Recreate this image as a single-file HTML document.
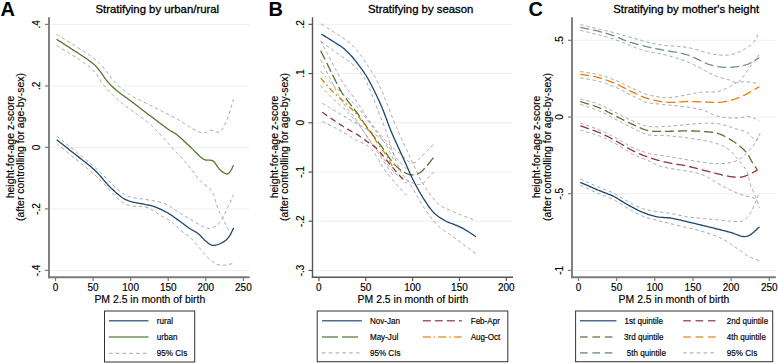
<!DOCTYPE html>
<html><head><meta charset="utf-8"><style>
html,body{margin:0;padding:0;background:#fff;}
svg{display:block;}
text{font-family:"Liberation Sans",sans-serif;}
</style></head><body>
<svg width="778" height="363" viewBox="0 0 778 363">
<rect width="778" height="363" fill="#fff"/>
<text x="0.5" y="16" font-size="20" text-anchor="start" font-weight="bold" fill="#000" stroke="#000" stroke-width="0">A</text>
<text x="157.3" y="12.8" font-size="11.35" text-anchor="middle" font-weight="normal" fill="#000" stroke="#000" stroke-width="0.3">Stratifying by urban/rural</text>
<line x1="50" y1="24.4" x2="249.6" y2="24.4" stroke="#ebf0f0" stroke-width="1"/>
<line x1="50" y1="85.9" x2="249.6" y2="85.9" stroke="#ebf0f0" stroke-width="1"/>
<line x1="50" y1="147.4" x2="249.6" y2="147.4" stroke="#ebf0f0" stroke-width="1"/>
<line x1="50" y1="208.9" x2="249.6" y2="208.9" stroke="#ebf0f0" stroke-width="1"/>
<line x1="50" y1="270.4" x2="249.6" y2="270.4" stroke="#ebf0f0" stroke-width="1"/>
<line x1="49" y1="17.2" x2="49" y2="278.15" stroke="#7a7a7a" stroke-width="1.9"/>
<line x1="48.05" y1="277.2" x2="249.6" y2="277.2" stroke="#7a7a7a" stroke-width="1.9"/>
<line x1="45" y1="24.4" x2="49" y2="24.4" stroke="#7a7a7a" stroke-width="1.2"/>
<text x="40.3" y="24.4" font-size="10" text-anchor="middle" font-weight="normal" fill="#000" stroke="#000" stroke-width="0.16" transform="rotate(-90 40.3 24.4)">.4</text>
<line x1="45" y1="85.9" x2="49" y2="85.9" stroke="#7a7a7a" stroke-width="1.2"/>
<text x="40.3" y="85.9" font-size="10" text-anchor="middle" font-weight="normal" fill="#000" stroke="#000" stroke-width="0.16" transform="rotate(-90 40.3 85.9)">.2</text>
<line x1="45" y1="147.4" x2="49" y2="147.4" stroke="#7a7a7a" stroke-width="1.2"/>
<text x="40.3" y="147.4" font-size="10" text-anchor="middle" font-weight="normal" fill="#000" stroke="#000" stroke-width="0.16" transform="rotate(-90 40.3 147.4)">0</text>
<line x1="45" y1="208.9" x2="49" y2="208.9" stroke="#7a7a7a" stroke-width="1.2"/>
<text x="40.3" y="208.9" font-size="10" text-anchor="middle" font-weight="normal" fill="#000" stroke="#000" stroke-width="0.16" transform="rotate(-90 40.3 208.9)">-.2</text>
<line x1="45" y1="270.4" x2="49" y2="270.4" stroke="#7a7a7a" stroke-width="1.2"/>
<text x="40.3" y="270.4" font-size="10" text-anchor="middle" font-weight="normal" fill="#000" stroke="#000" stroke-width="0.16" transform="rotate(-90 40.3 270.4)">-.4</text>
<line x1="55.5" y1="277.2" x2="55.5" y2="281.0" stroke="#7a7a7a" stroke-width="1.2"/>
<text x="55.5" y="291.2" font-size="10" text-anchor="middle" font-weight="normal" fill="#000" stroke="#000" stroke-width="0.16">0</text>
<line x1="93.08000000000001" y1="277.2" x2="93.08000000000001" y2="281.0" stroke="#7a7a7a" stroke-width="1.2"/>
<text x="93.08000000000001" y="291.2" font-size="10" text-anchor="middle" font-weight="normal" fill="#000" stroke="#000" stroke-width="0.16">50</text>
<line x1="130.66000000000003" y1="277.2" x2="130.66000000000003" y2="281.0" stroke="#7a7a7a" stroke-width="1.2"/>
<text x="130.66000000000003" y="291.2" font-size="10" text-anchor="middle" font-weight="normal" fill="#000" stroke="#000" stroke-width="0.16">100</text>
<line x1="168.24" y1="277.2" x2="168.24" y2="281.0" stroke="#7a7a7a" stroke-width="1.2"/>
<text x="168.24" y="291.2" font-size="10" text-anchor="middle" font-weight="normal" fill="#000" stroke="#000" stroke-width="0.16">150</text>
<line x1="205.82000000000002" y1="277.2" x2="205.82000000000002" y2="281.0" stroke="#7a7a7a" stroke-width="1.2"/>
<text x="205.82000000000002" y="291.2" font-size="10" text-anchor="middle" font-weight="normal" fill="#000" stroke="#000" stroke-width="0.16">200</text>
<line x1="243.4" y1="277.2" x2="243.4" y2="281.0" stroke="#7a7a7a" stroke-width="1.2"/>
<text x="243.4" y="291.2" font-size="10" text-anchor="middle" font-weight="normal" fill="#000" stroke="#000" stroke-width="0.16">250</text>
<text x="149.8" y="302.8" font-size="10.45" text-anchor="middle" font-weight="normal" fill="#000" stroke="#000" stroke-width="0.16">PM 2.5 in month of birth</text>
<text x="14" y="147" font-size="10.5" text-anchor="middle" font-weight="normal" fill="#000" stroke="#000" stroke-width="0.16" transform="rotate(-90 14 147)">height-for-age z-score</text>
<text x="24.3" y="147" font-size="10.45" text-anchor="middle" font-weight="normal" fill="#000" stroke="#000" stroke-width="0.16" transform="rotate(-90 24.3 147)">(after controlling for age-by-sex)</text>
<path d="M56.60,34.30 L57.65,34.97 L58.72,35.65 L59.80,36.34 L60.90,37.04 L62.02,37.74 L63.14,38.44 L64.28,39.16 L65.42,39.87 L66.57,40.59 L67.73,41.31 L68.88,42.03 L70.04,42.75 L71.20,43.47 L72.35,44.19 L73.50,44.90 L74.64,45.62 L75.77,46.33 L76.89,47.03 L78.00,47.73 L79.10,48.42 L80.18,49.11 L81.24,49.79 L82.28,50.46 L83.30,51.12 L84.30,51.77 L85.27,52.40 L86.21,53.03 L87.13,53.64 L88.01,54.24 L88.86,54.83 L89.68,55.39 L90.46,55.95 L91.20,56.48 L91.90,57.00 L93.17,57.95 L94.28,58.81 L95.28,59.59 L96.19,60.34 L97.06,61.08 L97.91,61.85 L98.78,62.67 L99.69,63.58 L100.70,64.60 L101.40,65.34 L102.10,66.13 L102.82,66.98 L103.56,67.87 L104.30,68.80 L105.05,69.76 L105.81,70.75 L106.58,71.75 L107.35,72.78 L108.13,73.81 L108.91,74.85 L109.70,75.89 L110.49,76.91 L111.28,77.93 L112.07,78.92 L112.86,79.89 L113.65,80.83 L114.44,81.73 L115.22,82.59 L116.00,83.40 L116.93,84.33 L117.85,85.22 L118.77,86.09 L119.68,86.93 L120.59,87.74 L121.51,88.54 L122.43,89.31 L123.36,90.07 L124.30,90.81 L125.25,91.54 L126.23,92.26 L127.23,92.98 L128.25,93.69 L129.30,94.40 L130.26,95.03 L131.24,95.64 L132.23,96.22 L133.24,96.80 L134.25,97.36 L135.28,97.91 L136.33,98.45 L137.39,98.99 L138.46,99.53 L139.54,100.06 L140.64,100.60 L141.75,101.14 L142.87,101.69 L144.01,102.24 L145.16,102.81 L146.32,103.40 L147.50,104.00 L148.49,104.51 L149.51,105.03 L150.53,105.55 L151.58,106.08 L152.63,106.61 L153.71,107.15 L154.79,107.69 L155.88,108.24 L156.98,108.79 L158.09,109.34 L159.21,109.90 L160.34,110.46 L161.47,111.02 L162.60,111.58 L163.74,112.15 L164.87,112.72 L166.01,113.29 L167.15,113.87 L168.29,114.44 L169.42,115.02 L170.55,115.59 L171.67,116.17 L172.79,116.75 L173.90,117.32 L175.00,117.90 L176.07,118.48 L177.17,119.10 L178.27,119.75 L179.39,120.42 L180.52,121.12 L181.66,121.84 L182.80,122.57 L183.94,123.31 L185.09,124.05 L186.24,124.80 L187.38,125.54 L188.52,126.27 L189.65,126.98 L190.77,127.68 L191.87,128.36 L192.97,129.01 L194.04,129.62 L195.10,130.21 L196.14,130.75 L197.15,131.24 L198.13,131.69 L199.09,132.08 L200.02,132.41 L200.92,132.67 L201.78,132.87 L202.60,133.00 L204.03,133.00 L205.37,132.75 L206.62,132.30 L207.82,131.76 L208.97,131.20 L210.09,130.70 L211.20,130.34 L212.30,130.20 L213.78,130.48 L215.22,131.12 L216.60,131.82 L217.93,132.28 L219.20,132.20 L219.99,131.79 L220.74,131.17 L221.46,130.37 L222.16,129.41 L222.83,128.32 L223.49,127.14 L224.13,125.89 L224.76,124.59 L225.38,123.29 L226.00,122.00 L226.45,121.04 L226.89,120.03 L227.31,118.98 L227.73,117.88 L228.14,116.75 L228.54,115.58 L228.93,114.39 L229.32,113.17 L229.70,111.94 L230.08,110.68 L230.46,109.42 L230.84,108.14 L231.21,106.87 L231.59,105.60 L231.96,104.33 L232.34,103.07 L232.72,101.83 L233.11,100.60 L233.50,99.40" fill="none" stroke="#9a9a9a" stroke-width="0.9" stroke-dasharray="3.4 2.8" stroke-linecap="butt" stroke-linejoin="round"/>
<path d="M56.60,45.30 L57.62,45.98 L58.65,46.65 L59.69,47.33 L60.75,48.00 L61.82,48.68 L62.89,49.35 L63.98,50.02 L65.07,50.70 L66.17,51.37 L67.27,52.04 L68.37,52.71 L69.47,53.39 L70.57,54.06 L71.67,54.73 L72.77,55.40 L73.87,56.08 L74.95,56.75 L76.03,57.42 L77.10,58.10 L78.16,58.77 L79.21,59.45 L80.25,60.12 L81.27,60.80 L82.27,61.47 L83.26,62.15 L84.23,62.83 L85.18,63.51 L86.11,64.19 L87.02,64.88 L87.90,65.56 L88.76,66.24 L89.59,66.93 L90.39,67.62 L91.16,68.31 L91.90,69.00 L92.88,69.97 L93.79,70.96 L94.65,71.95 L95.46,72.94 L96.22,73.94 L96.94,74.95 L97.63,75.95 L98.29,76.96 L98.94,77.96 L99.57,78.96 L100.20,79.96 L100.83,80.95 L101.47,81.94 L102.12,82.91 L102.79,83.88 L103.49,84.83 L104.23,85.77 L105.00,86.70 L105.79,87.61 L106.58,88.50 L107.38,89.37 L108.17,90.24 L108.97,91.10 L109.78,91.94 L110.59,92.78 L111.41,93.62 L112.25,94.45 L113.09,95.28 L113.95,96.10 L114.83,96.93 L115.72,97.76 L116.63,98.60 L117.57,99.44 L118.52,100.28 L119.50,101.14 L120.50,102.00 L121.33,102.70 L122.20,103.41 L123.10,104.13 L124.03,104.85 L124.98,105.59 L125.97,106.33 L126.97,107.07 L127.99,107.82 L129.02,108.57 L130.07,109.32 L131.13,110.07 L132.19,110.83 L133.26,111.58 L134.32,112.33 L135.38,113.07 L136.44,113.81 L137.49,114.55 L138.52,115.28 L139.54,116.00 L140.54,116.72 L141.51,117.42 L142.47,118.11 L143.39,118.80 L144.29,119.47 L145.15,120.12 L145.97,120.76 L146.76,121.39 L147.50,122.00 L148.62,122.95 L149.65,123.83 L150.61,124.67 L151.50,125.48 L152.35,126.28 L153.18,127.07 L154.01,127.87 L154.85,128.70 L155.71,129.57 L156.62,130.50 L157.60,131.50 L158.34,132.26 L159.10,133.06 L159.88,133.90 L160.68,134.77 L161.49,135.66 L162.32,136.58 L163.16,137.52 L164.01,138.47 L164.87,139.44 L165.73,140.42 L166.59,141.40 L167.45,142.38 L168.31,143.36 L169.16,144.34 L170.01,145.30 L170.85,146.26 L171.67,147.19 L172.48,148.11 L173.27,149.00 L174.05,149.87 L174.80,150.70 L175.69,151.68 L176.56,152.62 L177.41,153.53 L178.25,154.42 L179.07,155.29 L179.88,156.15 L180.68,157.00 L181.49,157.86 L182.29,158.71 L183.09,159.58 L183.90,160.47 L184.72,161.38 L185.55,162.32 L186.40,163.30 L187.14,164.17 L187.89,165.08 L188.64,166.01 L189.40,166.97 L190.17,167.96 L190.94,168.95 L191.71,169.96 L192.48,170.98 L193.26,172.00 L194.04,173.02 L194.82,174.02 L195.59,175.02 L196.37,176.01 L197.14,176.97 L197.90,177.90 L198.66,178.81 L199.42,179.68 L200.16,180.51 L200.90,181.30 L201.90,182.27 L202.91,183.15 L203.93,183.95 L204.96,184.71 L205.97,185.44 L206.97,186.16 L207.94,186.91 L208.88,187.69 L209.77,188.53 L210.62,189.46 L211.40,190.50 L211.98,191.43 L212.52,192.43 L213.01,193.48 L213.47,194.59 L213.89,195.74 L214.29,196.92 L214.67,198.13 L215.03,199.36 L215.38,200.60 L215.73,201.83 L216.08,203.06 L216.43,204.28 L216.79,205.47 L217.17,206.62 L217.57,207.74 L218.00,208.80 L218.52,209.98 L219.04,211.13 L219.57,212.26 L220.11,213.36 L220.66,214.44 L221.20,215.51 L221.76,216.57 L222.31,217.63 L222.86,218.69 L223.41,219.75 L223.96,220.82 L224.50,221.90 L225.04,222.99 L225.58,224.08 L226.12,225.18 L226.67,226.27 L227.21,227.36 L227.75,228.45 L228.29,229.54 L228.83,230.63 L229.38,231.72 L229.92,232.82 L230.46,233.91 L231.00,235.00" fill="none" stroke="#9a9a9a" stroke-width="0.9" stroke-dasharray="3.4 2.8" stroke-linecap="butt" stroke-linejoin="round"/>
<path d="M56.60,39.30 L57.63,39.96 L58.65,40.61 L59.67,41.27 L60.69,41.92 L61.71,42.57 L62.73,43.22 L63.75,43.87 L64.77,44.53 L65.79,45.18 L66.82,45.84 L67.84,46.50 L68.88,47.17 L69.91,47.84 L70.95,48.52 L72.00,49.20 L72.99,49.85 L74.02,50.51 L75.06,51.19 L76.12,51.88 L77.20,52.57 L78.28,53.27 L79.36,53.98 L80.44,54.68 L81.51,55.38 L82.56,56.07 L83.59,56.75 L84.59,57.42 L85.56,58.08 L86.49,58.72 L87.38,59.33 L88.22,59.93 L89.00,60.50 L90.29,61.46 L91.46,62.33 L92.53,63.16 L93.54,63.99 L94.52,64.86 L95.50,65.80 L96.34,66.68 L97.15,67.59 L97.94,68.53 L98.70,69.49 L99.46,70.47 L100.23,71.48 L101.00,72.50 L101.74,73.51 L102.45,74.55 L103.16,75.61 L103.87,76.70 L104.60,77.78 L105.36,78.87 L106.15,79.95 L107.00,81.00 L107.79,81.92 L108.60,82.83 L109.44,83.74 L110.30,84.64 L111.19,85.55 L112.10,86.44 L113.04,87.34 L114.00,88.23 L114.99,89.11 L116.00,90.00 L116.91,90.77 L117.85,91.53 L118.81,92.28 L119.79,93.02 L120.79,93.76 L121.81,94.50 L122.84,95.24 L123.89,95.99 L124.95,96.74 L126.03,97.51 L127.11,98.29 L128.20,99.08 L129.30,99.90 L130.19,100.57 L131.09,101.25 L132.00,101.94 L132.92,102.63 L133.85,103.34 L134.78,104.05 L135.73,104.76 L136.68,105.49 L137.64,106.22 L138.60,106.95 L139.57,107.69 L140.55,108.44 L141.53,109.18 L142.52,109.93 L143.51,110.68 L144.50,111.44 L145.50,112.19 L146.50,112.95 L147.50,113.70 L148.46,114.42 L149.45,115.17 L150.46,115.94 L151.50,116.73 L152.55,117.53 L153.61,118.34 L154.68,119.16 L155.76,119.99 L156.84,120.81 L157.91,121.63 L158.99,122.44 L160.05,123.25 L161.10,124.04 L162.13,124.81 L163.14,125.57 L164.12,126.30 L165.08,127.00 L166.00,127.68 L166.89,128.32 L167.74,128.92 L168.54,129.48 L169.30,130.00 L170.50,130.77 L171.56,131.40 L172.53,131.94 L173.47,132.45 L174.41,132.99 L175.40,133.62 L176.50,134.40 L177.31,135.02 L178.15,135.71 L179.03,136.45 L179.93,137.24 L180.86,138.07 L181.81,138.93 L182.78,139.82 L183.75,140.73 L184.73,141.66 L185.71,142.59 L186.68,143.51 L187.64,144.44 L188.59,145.34 L189.52,146.23 L190.42,147.08 L191.30,147.90 L192.32,148.86 L193.34,149.87 L194.38,150.90 L195.40,151.94 L196.42,152.97 L197.41,153.98 L198.39,154.94 L199.32,155.85 L200.22,156.69 L201.07,157.44 L201.87,158.08 L202.60,158.60 L203.79,159.27 L204.82,159.67 L206.00,160.00 L207.22,160.17 L208.59,160.19 L210.03,160.22 L211.46,160.40 L212.80,160.90 L213.69,161.54 L214.54,162.41 L215.35,163.44 L216.15,164.58 L216.93,165.78 L217.72,166.98 L218.52,168.12 L219.34,169.14 L220.20,170.00 L221.35,170.95 L222.57,171.89 L223.81,172.74 L225.01,173.42 L226.13,173.87 L227.10,174.00 L228.15,173.65 L229.04,172.88 L229.90,171.90 L230.53,171.04 L231.14,170.01 L231.74,168.86 L232.32,167.66 L232.91,166.45 L233.50,165.30" fill="none" stroke="#55752f" stroke-width="1.3" stroke-linecap="butt" stroke-linejoin="round"/>
<path d="M56.70,136.00 L57.65,136.78 L58.60,137.56 L59.55,138.34 L60.51,139.12 L61.47,139.90 L62.43,140.68 L63.39,141.47 L64.35,142.25 L65.32,143.03 L66.29,143.82 L67.25,144.60 L68.22,145.39 L69.19,146.17 L70.16,146.96 L71.13,147.74 L72.09,148.53 L73.06,149.31 L74.03,150.10 L74.99,150.88 L75.96,151.66 L76.92,152.45 L77.88,153.23 L78.84,154.01 L79.80,154.79 L80.75,155.57 L81.71,156.35 L82.65,157.13 L83.60,157.91 L84.54,158.69 L85.48,159.46 L86.42,160.24 L87.35,161.01 L88.27,161.78 L89.20,162.55 L90.11,163.32 L91.02,164.09 L91.93,164.85 L92.83,165.62 L93.73,166.38 L94.62,167.14 L95.50,167.90 L96.48,168.76 L97.46,169.63 L98.43,170.53 L99.39,171.43 L100.35,172.35 L101.30,173.28 L102.24,174.21 L103.18,175.16 L104.12,176.11 L105.05,177.06 L105.98,178.01 L106.90,178.96 L107.82,179.90 L108.74,180.84 L109.65,181.78 L110.56,182.70 L111.47,183.62 L112.37,184.52 L113.27,185.41 L114.17,186.28 L115.07,187.13 L115.97,187.96 L116.86,188.77 L117.76,189.55 L118.65,190.31 L119.54,191.04 L120.44,191.74 L121.33,192.41 L122.22,193.04 L123.11,193.64 L124.01,194.20 L124.90,194.72 L125.80,195.20 L127.00,195.77 L128.20,196.27 L129.41,196.71 L130.61,197.08 L131.81,197.40 L133.01,197.68 L134.21,197.92 L135.41,198.12 L136.60,198.29 L137.79,198.45 L138.97,198.59 L140.14,198.72 L141.31,198.85 L142.47,198.98 L143.62,199.13 L144.76,199.29 L145.88,199.48 L147.00,199.70 L148.27,199.96 L149.53,200.19 L150.78,200.41 L152.02,200.61 L153.25,200.81 L154.48,201.01 L155.69,201.21 L156.89,201.43 L158.07,201.66 L159.25,201.92 L160.41,202.21 L161.56,202.53 L162.69,202.89 L163.80,203.30 L164.93,203.78 L166.04,204.31 L167.13,204.87 L168.19,205.48 L169.25,206.11 L170.28,206.77 L171.31,207.44 L172.34,208.13 L173.36,208.82 L174.39,209.51 L175.41,210.19 L176.45,210.85 L177.50,211.50 L178.55,212.14 L179.60,212.78 L180.64,213.42 L181.68,214.06 L182.71,214.71 L183.75,215.35 L184.79,216.00 L185.84,216.64 L186.90,217.28 L187.98,217.91 L189.07,218.55 L190.17,219.18 L191.30,219.80 L192.34,220.38 L193.40,221.02 L194.49,221.69 L195.61,222.39 L196.74,223.11 L197.88,223.82 L199.03,224.53 L200.18,225.21 L201.32,225.86 L202.46,226.46 L203.58,227.00 L204.68,227.48 L205.76,227.86 L206.81,228.15 L207.82,228.34 L208.80,228.40 L210.10,228.31 L211.38,228.06 L212.63,227.67 L213.85,227.15 L215.03,226.52 L216.16,225.79 L217.26,224.98 L218.31,224.12 L219.30,223.20 L220.07,222.39 L220.79,221.48 L221.46,220.49 L222.10,219.44 L222.71,218.32 L223.30,217.17 L223.86,215.98 L224.41,214.76 L224.94,213.54 L225.48,212.32 L226.01,211.12 L226.55,209.94 L227.10,208.80 L227.64,207.70 L228.17,206.60 L228.70,205.49 L229.21,204.39 L229.72,203.28 L230.22,202.17 L230.71,201.06 L231.21,199.95 L231.70,198.84 L232.20,197.73 L232.70,196.62 L233.20,195.51 L233.70,194.40" fill="none" stroke="#9a9a9a" stroke-width="0.9" stroke-dasharray="3.4 2.8" stroke-linecap="butt" stroke-linejoin="round"/>
<path d="M56.70,143.60 L57.65,144.38 L58.60,145.16 L59.55,145.94 L60.51,146.71 L61.47,147.49 L62.43,148.27 L63.39,149.05 L64.36,149.83 L65.33,150.61 L66.29,151.39 L67.26,152.17 L68.23,152.95 L69.20,153.73 L70.17,154.51 L71.14,155.29 L72.11,156.07 L73.08,156.85 L74.05,157.63 L75.02,158.41 L75.98,159.19 L76.95,159.97 L77.91,160.75 L78.87,161.53 L79.83,162.30 L80.78,163.08 L81.73,163.86 L82.68,164.64 L83.63,165.42 L84.57,166.20 L85.51,166.97 L86.44,167.75 L87.37,168.53 L88.30,169.30 L89.22,170.08 L90.13,170.85 L91.04,171.63 L91.95,172.41 L92.84,173.18 L93.74,173.95 L94.62,174.73 L95.50,175.50 L96.46,176.36 L97.41,177.24 L98.35,178.15 L99.29,179.06 L100.22,180.00 L101.15,180.95 L102.07,181.90 L102.98,182.87 L103.89,183.85 L104.79,184.82 L105.69,185.81 L106.59,186.79 L107.48,187.77 L108.36,188.74 L109.25,189.71 L110.13,190.68 L111.01,191.63 L111.88,192.57 L112.75,193.49 L113.63,194.40 L114.50,195.29 L115.36,196.16 L116.23,197.01 L117.10,197.83 L117.96,198.62 L118.83,199.39 L119.70,200.12 L120.57,200.82 L121.43,201.48 L122.30,202.11 L123.17,202.70 L124.05,203.24 L124.92,203.74 L125.80,204.20 L127.07,204.76 L128.35,205.21 L129.64,205.56 L130.93,205.83 L132.23,206.03 L133.53,206.17 L134.83,206.26 L136.13,206.32 L137.41,206.36 L138.68,206.39 L139.94,206.43 L141.18,206.49 L142.40,206.58 L143.59,206.71 L144.76,206.90 L145.90,207.16 L147.00,207.50 L148.22,207.97 L149.41,208.51 L150.56,209.09 L151.69,209.71 L152.80,210.37 L153.88,211.05 L154.94,211.75 L155.99,212.45 L157.01,213.14 L158.03,213.82 L159.03,214.48 L160.02,215.11 L161.00,215.70 L162.16,216.35 L163.29,216.95 L164.39,217.52 L165.47,218.08 L166.54,218.64 L167.59,219.22 L168.63,219.83 L169.67,220.48 L170.70,221.20 L171.69,221.97 L172.66,222.80 L173.61,223.67 L174.56,224.58 L175.49,225.51 L176.43,226.45 L177.37,227.39 L178.32,228.32 L179.30,229.23 L180.30,230.10 L181.25,230.87 L182.22,231.60 L183.20,232.30 L184.19,232.99 L185.19,233.67 L186.20,234.36 L187.22,235.08 L188.23,235.83 L189.26,236.62 L190.28,237.48 L191.30,238.40 L192.07,239.15 L192.84,239.96 L193.62,240.81 L194.41,241.71 L195.20,242.65 L196.00,243.61 L196.79,244.60 L197.59,245.61 L198.39,246.62 L199.19,247.64 L199.99,248.66 L200.78,249.67 L201.57,250.66 L202.36,251.63 L203.14,252.56 L203.92,253.47 L204.69,254.33 L205.45,255.14 L206.20,255.90 L207.17,256.86 L208.13,257.80 L209.08,258.72 L210.01,259.62 L210.94,260.47 L211.87,261.28 L212.80,262.03 L213.73,262.72 L214.68,263.33 L215.63,263.86 L216.60,264.30 L217.89,264.72 L219.21,264.99 L220.55,265.14 L221.89,265.19 L223.21,265.16 L224.52,265.09 L225.80,265.00 L227.16,264.84 L228.49,264.58 L229.79,264.25 L231.09,263.89 L232.39,263.53 L233.70,263.20" fill="none" stroke="#9a9a9a" stroke-width="0.9" stroke-dasharray="3.4 2.8" stroke-linecap="butt" stroke-linejoin="round"/>
<path d="M56.70,139.70 L57.67,140.47 L58.64,141.24 L59.60,142.00 L60.56,142.76 L61.52,143.52 L62.47,144.27 L63.43,145.03 L64.39,145.79 L65.35,146.55 L66.31,147.31 L67.28,148.08 L68.25,148.85 L69.22,149.62 L70.20,150.40 L71.19,151.19 L72.18,151.98 L73.19,152.79 L74.20,153.60 L75.13,154.34 L76.08,155.09 L77.04,155.85 L78.02,156.61 L79.00,157.37 L80.00,158.14 L81.00,158.92 L82.00,159.69 L83.01,160.48 L84.02,161.26 L85.03,162.05 L86.03,162.84 L87.03,163.64 L88.03,164.44 L89.01,165.24 L89.99,166.04 L90.95,166.85 L91.90,167.65 L92.83,168.46 L93.74,169.27 L94.63,170.09 L95.50,170.90 L96.44,171.81 L97.35,172.73 L98.23,173.67 L99.10,174.62 L99.95,175.57 L100.78,176.54 L101.60,177.50 L102.41,178.46 L103.22,179.43 L104.02,180.39 L104.82,181.34 L105.62,182.28 L106.42,183.21 L107.23,184.13 L108.05,185.03 L108.89,185.91 L109.73,186.77 L110.60,187.60 L111.51,188.46 L112.42,189.32 L113.33,190.18 L114.24,191.03 L115.16,191.88 L116.07,192.71 L116.99,193.53 L117.92,194.33 L118.86,195.11 L119.81,195.86 L120.77,196.59 L121.74,197.29 L122.73,197.95 L123.73,198.57 L124.76,199.16 L125.80,199.70 L126.93,200.22 L128.10,200.68 L129.31,201.10 L130.56,201.47 L131.82,201.81 L133.11,202.12 L134.39,202.40 L135.68,202.65 L136.95,202.89 L138.20,203.11 L139.43,203.33 L140.62,203.54 L141.77,203.75 L142.86,203.97 L143.90,204.20 L145.35,204.52 L146.68,204.77 L147.94,205.00 L149.16,205.22 L150.38,205.48 L151.65,205.79 L153.00,206.20 L154.05,206.56 L155.14,206.95 L156.26,207.38 L157.40,207.84 L158.56,208.33 L159.73,208.84 L160.90,209.37 L162.06,209.92 L163.21,210.48 L164.34,211.05 L165.44,211.62 L166.50,212.20 L167.56,212.81 L168.60,213.43 L169.62,214.08 L170.62,214.73 L171.60,215.40 L172.58,216.09 L173.55,216.78 L174.53,217.48 L175.51,218.18 L176.50,218.89 L177.50,219.60 L178.49,220.30 L179.48,221.03 L180.49,221.77 L181.50,222.52 L182.51,223.28 L183.52,224.05 L184.53,224.80 L185.53,225.55 L186.52,226.28 L187.50,226.98 L188.46,227.66 L189.40,228.30 L190.57,229.04 L191.72,229.72 L192.87,230.36 L193.99,230.98 L195.10,231.60 L196.19,232.24 L197.25,232.94 L198.30,233.70 L199.24,234.49 L200.14,235.35 L201.03,236.26 L201.90,237.20 L202.76,238.14 L203.62,239.07 L204.47,239.95 L205.33,240.77 L206.20,241.50 L207.27,242.35 L208.31,243.19 L209.35,243.96 L210.42,244.62 L211.52,245.12 L212.70,245.40 L213.93,245.44 L215.25,245.29 L216.62,244.96 L218.01,244.52 L219.38,243.98 L220.69,243.40 L221.90,242.80 L223.12,242.12 L224.28,241.38 L225.39,240.55 L226.44,239.65 L227.44,238.67 L228.40,237.60 L229.09,236.70 L229.74,235.71 L230.34,234.66 L230.92,233.56 L231.47,232.43 L232.02,231.28 L232.57,230.13 L233.12,229.00 L233.70,227.90" fill="none" stroke="#1a476f" stroke-width="1.3" stroke-linecap="butt" stroke-linejoin="round"/>
<rect x="104.5" y="311" width="90.2" height="51" fill="none" stroke="#333" stroke-width="1"/>
<line x1="108.9" y1="320.8" x2="148.5" y2="320.8" stroke="#4a6d90" stroke-width="1.6"/>
<line x1="108.9" y1="337" x2="148.5" y2="337" stroke="#73905a" stroke-width="1.6"/>
<path d="M108.90,353.30 L148.50,353.30" fill="none" stroke="#9a9a9a" stroke-width="0.9" stroke-dasharray="3.6 3.2" stroke-linecap="butt" stroke-linejoin="round"/>
<text x="156.8" y="323.9" font-size="8.1" text-anchor="start" font-weight="normal" fill="#000" stroke="#000" stroke-width="0.16" transform="translate(156.8 323.9) scale(1 1.12) translate(-156.8 -323.9)">rural</text>
<text x="156.8" y="339.9" font-size="8.1" text-anchor="start" font-weight="normal" fill="#000" stroke="#000" stroke-width="0.16" transform="translate(156.8 339.9) scale(1 1.12) translate(-156.8 -339.9)">urban</text>
<text x="156.8" y="356.4" font-size="8.1" text-anchor="start" font-weight="normal" fill="#000" stroke="#000" stroke-width="0.16" transform="translate(156.8 356.4) scale(1 1.12) translate(-156.8 -356.4)">95% CIs</text>
<text x="268.5" y="16" font-size="20" text-anchor="start" font-weight="bold" fill="#000" stroke="#000" stroke-width="0">B</text>
<text x="420.7" y="12.8" font-size="11.35" text-anchor="middle" font-weight="normal" fill="#000" stroke="#000" stroke-width="0.3">Stratifying by season</text>
<line x1="313.5" y1="24.36" x2="513" y2="24.36" stroke="#ebf0f0" stroke-width="1"/>
<line x1="313.5" y1="73.58" x2="513" y2="73.58" stroke="#ebf0f0" stroke-width="1"/>
<line x1="313.5" y1="122.8" x2="513" y2="122.8" stroke="#ebf0f0" stroke-width="1"/>
<line x1="313.5" y1="172.01999999999998" x2="513" y2="172.01999999999998" stroke="#ebf0f0" stroke-width="1"/>
<line x1="313.5" y1="221.24" x2="513" y2="221.24" stroke="#ebf0f0" stroke-width="1"/>
<line x1="313.5" y1="270.46" x2="513" y2="270.46" stroke="#ebf0f0" stroke-width="1"/>
<line x1="312.5" y1="17.2" x2="312.5" y2="277.9" stroke="#555" stroke-width="1.4"/>
<line x1="311.8" y1="277.2" x2="513" y2="277.2" stroke="#555" stroke-width="1.4"/>
<line x1="308.5" y1="24.36" x2="312.5" y2="24.36" stroke="#555" stroke-width="1.2"/>
<text x="303.6" y="24.36" font-size="10" text-anchor="middle" font-weight="normal" fill="#000" stroke="#000" stroke-width="0.16" transform="rotate(-90 303.6 24.36)">.2</text>
<line x1="308.5" y1="73.58" x2="312.5" y2="73.58" stroke="#555" stroke-width="1.2"/>
<text x="303.6" y="73.58" font-size="10" text-anchor="middle" font-weight="normal" fill="#000" stroke="#000" stroke-width="0.16" transform="rotate(-90 303.6 73.58)">.1</text>
<line x1="308.5" y1="122.8" x2="312.5" y2="122.8" stroke="#555" stroke-width="1.2"/>
<text x="303.6" y="122.8" font-size="10" text-anchor="middle" font-weight="normal" fill="#000" stroke="#000" stroke-width="0.16" transform="rotate(-90 303.6 122.8)">0</text>
<line x1="308.5" y1="172.01999999999998" x2="312.5" y2="172.01999999999998" stroke="#555" stroke-width="1.2"/>
<text x="303.6" y="172.01999999999998" font-size="10" text-anchor="middle" font-weight="normal" fill="#000" stroke="#000" stroke-width="0.16" transform="rotate(-90 303.6 172.01999999999998)">-.1</text>
<line x1="308.5" y1="221.24" x2="312.5" y2="221.24" stroke="#555" stroke-width="1.2"/>
<text x="303.6" y="221.24" font-size="10" text-anchor="middle" font-weight="normal" fill="#000" stroke="#000" stroke-width="0.16" transform="rotate(-90 303.6 221.24)">-.2</text>
<line x1="308.5" y1="270.46" x2="312.5" y2="270.46" stroke="#555" stroke-width="1.2"/>
<text x="303.6" y="270.46" font-size="10" text-anchor="middle" font-weight="normal" fill="#000" stroke="#000" stroke-width="0.16" transform="rotate(-90 303.6 270.46)">-.3</text>
<line x1="318.9" y1="277.2" x2="318.9" y2="281.0" stroke="#555" stroke-width="1.2"/>
<text x="318.9" y="291.2" font-size="10" text-anchor="middle" font-weight="normal" fill="#000" stroke="#000" stroke-width="0.16">0</text>
<line x1="365.75" y1="277.2" x2="365.75" y2="281.0" stroke="#555" stroke-width="1.2"/>
<text x="365.75" y="291.2" font-size="10" text-anchor="middle" font-weight="normal" fill="#000" stroke="#000" stroke-width="0.16">50</text>
<line x1="412.59999999999997" y1="277.2" x2="412.59999999999997" y2="281.0" stroke="#555" stroke-width="1.2"/>
<text x="412.59999999999997" y="291.2" font-size="10" text-anchor="middle" font-weight="normal" fill="#000" stroke="#000" stroke-width="0.16">100</text>
<line x1="459.45" y1="277.2" x2="459.45" y2="281.0" stroke="#555" stroke-width="1.2"/>
<text x="459.45" y="291.2" font-size="10" text-anchor="middle" font-weight="normal" fill="#000" stroke="#000" stroke-width="0.16">150</text>
<line x1="506.29999999999995" y1="277.2" x2="506.29999999999995" y2="281.0" stroke="#555" stroke-width="1.2"/>
<text x="506.29999999999995" y="291.2" font-size="10" text-anchor="middle" font-weight="normal" fill="#000" stroke="#000" stroke-width="0.16">200</text>
<text x="413" y="302.8" font-size="10.45" text-anchor="middle" font-weight="normal" fill="#000" stroke="#000" stroke-width="0.16">PM 2.5 in month of birth</text>
<text x="277.5" y="147" font-size="10.5" text-anchor="middle" font-weight="normal" fill="#000" stroke="#000" stroke-width="0.16" transform="rotate(-90 277.5 147)">height-for-age z-score</text>
<text x="287.8" y="147" font-size="10.45" text-anchor="middle" font-weight="normal" fill="#000" stroke="#000" stroke-width="0.16" transform="rotate(-90 287.8 147)">(after controlling for age-by-sex)</text>
<path d="M321.30,24.10 L322.40,24.79 L323.49,25.46 L324.57,26.13 L325.65,26.80 L326.74,27.47 L327.82,28.14 L328.91,28.82 L330.01,29.50 L331.11,30.20 L332.23,30.91 L333.36,31.65 L334.50,32.40 L335.50,33.06 L336.52,33.73 L337.57,34.41 L338.64,35.10 L339.72,35.80 L340.81,36.50 L341.90,37.22 L342.99,37.95 L344.07,38.68 L345.13,39.42 L346.19,40.17 L347.21,40.92 L348.21,41.68 L349.18,42.45 L350.11,43.22 L351.00,44.00 L351.98,44.91 L352.92,45.83 L353.82,46.76 L354.70,47.69 L355.54,48.64 L356.36,49.60 L357.16,50.56 L357.94,51.53 L358.72,52.51 L359.48,53.50 L360.24,54.50 L361.00,55.50 L361.75,56.51 L362.48,57.53 L363.19,58.57 L363.89,59.62 L364.58,60.68 L365.27,61.74 L365.94,62.80 L366.60,63.86 L367.26,64.91 L367.91,65.96 L368.56,66.99 L369.20,68.00 L369.91,69.09 L370.60,70.16 L371.29,71.21 L371.97,72.25 L372.64,73.28 L373.31,74.32 L373.97,75.38 L374.62,76.45 L375.26,77.56 L375.90,78.70 L376.47,79.77 L377.03,80.83 L377.57,81.89 L378.10,82.97 L378.62,84.05 L379.14,85.16 L379.67,86.31 L380.20,87.48 L380.75,88.70 L381.31,89.98 L381.89,91.31 L382.50,92.70 L382.89,93.59 L383.28,94.52 L383.69,95.49 L384.10,96.49 L384.52,97.51 L384.95,98.57 L385.38,99.65 L385.82,100.75 L386.27,101.88 L386.72,103.02 L387.18,104.18 L387.64,105.36 L388.10,106.54 L388.57,107.74 L389.04,108.94 L389.51,110.15 L389.98,111.36 L390.45,112.57 L390.93,113.78 L391.40,114.98 L391.87,116.18 L392.34,117.37 L392.81,118.55 L393.28,119.71 L393.74,120.86 L394.20,122.00 L394.66,123.11 L395.11,124.20 L395.56,125.26 L396.00,126.30 L396.51,127.49 L397.02,128.67 L397.53,129.84 L398.05,130.99 L398.56,132.14 L399.07,133.28 L399.57,134.40 L400.08,135.52 L400.59,136.63 L401.09,137.74 L401.60,138.83 L402.10,139.92 L402.60,141.00 L403.10,142.07 L403.59,143.14 L404.09,144.20 L404.58,145.26 L405.07,146.32 L405.56,147.37 L406.04,148.42 L406.52,149.46 L407.00,150.50 L407.55,151.71 L408.11,152.92 L408.66,154.13 L409.21,155.33 L409.75,156.53 L410.30,157.73 L410.84,158.91 L411.38,160.09 L411.91,161.26 L412.44,162.41 L412.97,163.55 L413.49,164.67 L414.00,165.78 L414.51,166.87 L415.01,167.93 L415.51,168.98 L416.00,170.00 L416.57,171.21 L417.11,172.36 L417.61,173.47 L418.10,174.54 L418.58,175.59 L419.07,176.64 L419.59,177.69 L420.13,178.76 L420.73,179.86 L421.38,181.00 L422.10,182.20 L422.66,183.10 L423.24,184.04 L423.86,185.03 L424.50,186.05 L425.16,187.10 L425.85,188.17 L426.56,189.26 L427.28,190.37 L428.03,191.48 L428.79,192.59 L429.57,193.70 L430.36,194.81 L431.16,195.90 L431.97,196.97 L432.79,198.01 L433.61,199.03 L434.44,200.01 L435.28,200.95 L436.11,201.85 L436.94,202.69 L437.77,203.48 L438.60,204.20 L439.63,205.02 L440.66,205.76 L441.71,206.44 L442.76,207.06 L443.82,207.63 L444.89,208.16 L445.98,208.65 L447.07,209.13 L448.18,209.59 L449.31,210.04 L450.46,210.50 L451.62,210.98 L452.80,211.47 L454.00,212.00 L455.06,212.47 L456.14,212.94 L457.23,213.40 L458.35,213.86 L459.48,214.32 L460.63,214.78 L461.79,215.24 L462.96,215.70 L464.14,216.15 L465.33,216.61 L466.52,217.06 L467.71,217.51 L468.91,217.97 L470.10,218.42 L471.29,218.88 L472.48,219.33 L473.66,219.79 L474.84,220.24 L476.00,220.70" fill="none" stroke="#9a9a9a" stroke-width="0.9" stroke-dasharray="3.4 2.8" stroke-linecap="butt" stroke-linejoin="round"/>
<path d="M321.30,41.50 L322.31,42.26 L323.31,43.02 L324.31,43.77 L325.31,44.53 L326.30,45.28 L327.30,46.04 L328.30,46.79 L329.30,47.55 L330.32,48.31 L331.34,49.08 L332.38,49.85 L333.43,50.62 L334.50,51.40 L335.48,52.10 L336.49,52.80 L337.53,53.50 L338.58,54.20 L339.64,54.91 L340.72,55.61 L341.80,56.32 L342.88,57.03 L343.95,57.75 L345.02,58.47 L346.07,59.20 L347.11,59.94 L348.13,60.69 L349.12,61.45 L350.08,62.22 L351.00,63.00 L351.94,63.83 L352.87,64.66 L353.78,65.50 L354.68,66.35 L355.56,67.20 L356.42,68.07 L357.27,68.94 L358.09,69.82 L358.90,70.72 L359.68,71.63 L360.45,72.55 L361.19,73.48 L361.91,74.43 L362.60,75.40 L363.30,76.44 L363.97,77.50 L364.60,78.58 L365.21,79.68 L365.79,80.79 L366.35,81.91 L366.90,83.04 L367.43,84.19 L367.95,85.34 L368.46,86.50 L368.97,87.66 L369.48,88.83 L370.00,90.00 L370.49,91.13 L370.96,92.25 L371.42,93.39 L371.87,94.52 L372.31,95.66 L372.74,96.81 L373.17,97.97 L373.60,99.13 L374.03,100.31 L374.46,101.50 L374.90,102.70 L375.35,103.92 L375.82,105.15 L376.30,106.40 L376.72,107.48 L377.16,108.58 L377.60,109.68 L378.04,110.80 L378.50,111.93 L378.95,113.06 L379.42,114.21 L379.88,115.36 L380.35,116.52 L380.82,117.69 L381.29,118.87 L381.77,120.05 L382.24,121.24 L382.71,122.44 L383.17,123.64 L383.64,124.85 L384.10,126.06 L384.55,127.28 L385.00,128.50 L385.40,129.61 L385.79,130.73 L386.19,131.87 L386.58,133.03 L386.98,134.20 L387.37,135.38 L387.76,136.57 L388.14,137.77 L388.53,138.97 L388.92,140.17 L389.30,141.37 L389.69,142.57 L390.07,143.76 L390.46,144.95 L390.84,146.13 L391.22,147.30 L391.60,148.46 L391.99,149.60 L392.37,150.72 L392.75,151.83 L393.13,152.91 L393.52,153.97 L393.90,155.00 L394.37,156.26 L394.83,157.50 L395.28,158.72 L395.72,159.92 L396.16,161.11 L396.60,162.28 L397.05,163.43 L397.49,164.56 L397.95,165.67 L398.41,166.77 L398.89,167.85 L399.39,168.91 L399.90,169.96 L400.44,170.99 L401.00,172.00 L401.66,173.10 L402.35,174.13 L403.06,175.12 L403.78,176.07 L404.53,177.01 L405.29,177.93 L406.06,178.85 L406.84,179.80 L407.63,180.77 L408.42,181.79 L409.21,182.86 L410.00,184.00 L410.59,184.91 L411.19,185.85 L411.78,186.83 L412.38,187.83 L412.98,188.86 L413.59,189.92 L414.19,190.99 L414.81,192.08 L415.42,193.19 L416.04,194.31 L416.66,195.43 L417.29,196.56 L417.92,197.69 L418.56,198.82 L419.20,199.94 L419.85,201.06 L420.51,202.16 L421.17,203.25 L421.84,204.32 L422.52,205.37 L423.20,206.40 L423.91,207.45 L424.63,208.51 L425.36,209.57 L426.09,210.64 L426.82,211.71 L427.56,212.77 L428.31,213.83 L429.07,214.88 L429.83,215.93 L430.59,216.97 L431.36,217.99 L432.14,219.00 L432.93,219.99 L433.72,220.96 L434.52,221.92 L435.32,222.85 L436.13,223.75 L436.95,224.63 L437.77,225.48 L438.60,226.30 L439.57,227.20 L440.54,228.04 L441.52,228.83 L442.50,229.59 L443.50,230.31 L444.50,231.00 L445.51,231.68 L446.53,232.34 L447.56,233.00 L448.60,233.67 L449.66,234.34 L450.72,235.04 L451.80,235.76 L452.89,236.51 L454.00,237.30 L454.92,237.98 L455.86,238.67 L456.81,239.37 L457.77,240.08 L458.75,240.81 L459.73,241.54 L460.72,242.29 L461.72,243.04 L462.73,243.80 L463.75,244.56 L464.77,245.33 L465.79,246.10 L466.81,246.87 L467.84,247.65 L468.87,248.43 L469.90,249.20 L470.93,249.98 L471.95,250.75 L472.97,251.52 L473.99,252.29 L475.00,253.05 L476.00,253.80" fill="none" stroke="#9a9a9a" stroke-width="0.9" stroke-dasharray="3.4 2.8" stroke-linecap="butt" stroke-linejoin="round"/>
<path d="M320.60,40.70 L321.16,41.77 L321.72,42.83 L322.28,43.90 L322.84,44.96 L323.39,46.03 L323.95,47.10 L324.51,48.16 L325.07,49.23 L325.63,50.30 L326.18,51.36 L326.74,52.43 L327.30,53.50 L327.86,54.56 L328.42,55.63 L328.98,56.69 L329.54,57.75 L330.11,58.82 L330.67,59.88 L331.23,60.94 L331.80,62.00 L332.39,63.11 L332.98,64.23 L333.56,65.35 L334.14,66.48 L334.72,67.60 L335.30,68.73 L335.88,69.86 L336.47,70.98 L337.05,72.10 L337.64,73.22 L338.23,74.34 L338.82,75.45 L339.42,76.55 L340.03,77.65 L340.65,78.74 L341.27,79.82 L341.90,80.89 L342.55,81.95 L343.20,83.00 L343.88,84.06 L344.58,85.10 L345.30,86.13 L346.02,87.15 L346.76,88.17 L347.50,89.17 L348.26,90.17 L349.01,91.16 L349.77,92.15 L350.53,93.13 L351.29,94.12 L352.05,95.10 L352.80,96.07 L353.54,97.05 L354.27,98.04 L355.00,99.02 L355.71,100.01 L356.40,101.00 L357.13,102.07 L357.83,103.13 L358.53,104.20 L359.21,105.26 L359.88,106.32 L360.54,107.39 L361.20,108.45 L361.86,109.51 L362.52,110.57 L363.18,111.64 L363.85,112.70 L364.53,113.76 L365.22,114.82 L365.93,115.88 L366.65,116.94 L367.40,118.00 L368.08,118.95 L368.77,119.91 L369.46,120.87 L370.16,121.83 L370.87,122.79 L371.59,123.76 L372.31,124.72 L373.04,125.69 L373.78,126.65 L374.52,127.61 L375.27,128.57 L376.03,129.52 L376.79,130.47 L377.56,131.41 L378.33,132.35 L379.12,133.27 L379.90,134.19 L380.70,135.10 L381.50,136.00 L382.31,136.90 L383.14,137.79 L383.97,138.68 L384.82,139.57 L385.67,140.46 L386.53,141.34 L387.40,142.22 L388.27,143.09 L389.15,143.95 L390.03,144.80 L390.92,145.65 L391.81,146.48 L392.70,147.31 L393.58,148.13 L394.47,148.93 L395.36,149.72 L396.24,150.49 L397.12,151.25 L398.00,152.00 L399.00,152.87 L400.01,153.80 L401.03,154.77 L402.06,155.76 L403.08,156.75 L404.11,157.72 L405.14,158.67 L406.16,159.56 L407.18,160.39 L408.19,161.14 L409.18,161.78 L410.16,162.31 L411.13,162.70 L412.07,162.93 L413.00,163.00 L414.08,162.84 L415.13,162.44 L416.16,161.84 L417.18,161.06 L418.18,160.16 L419.16,159.16 L420.14,158.11 L421.11,157.03 L422.07,155.96 L423.04,154.94 L424.00,154.00 L424.90,153.16 L425.80,152.30 L426.68,151.43 L427.56,150.54 L428.43,149.65 L429.30,148.74 L430.17,147.83 L431.03,146.92 L431.89,146.01 L432.76,145.10 L433.63,144.20 L434.50,143.30" fill="none" stroke="#9a9a9a" stroke-width="0.9" stroke-dasharray="3.4 2.8" stroke-linecap="butt" stroke-linejoin="round"/>
<path d="M320.60,59.70 L321.16,60.82 L321.72,61.93 L322.28,63.05 L322.83,64.17 L323.39,65.29 L323.95,66.42 L324.50,67.54 L325.06,68.66 L325.61,69.78 L326.17,70.90 L326.73,72.02 L327.29,73.14 L327.85,74.26 L328.41,75.37 L328.97,76.48 L329.53,77.59 L330.10,78.70 L330.66,79.80 L331.23,80.90 L331.80,82.00 L332.39,83.13 L332.97,84.26 L333.55,85.39 L334.13,86.53 L334.70,87.67 L335.28,88.80 L335.86,89.93 L336.44,91.06 L337.02,92.19 L337.61,93.31 L338.20,94.42 L338.79,95.53 L339.39,96.63 L340.01,97.72 L340.62,98.80 L341.25,99.87 L341.89,100.93 L342.54,101.97 L343.20,103.00 L343.92,104.07 L344.66,105.13 L345.41,106.16 L346.19,107.19 L346.97,108.19 L347.76,109.19 L348.56,110.18 L349.37,111.16 L350.18,112.13 L350.98,113.10 L351.79,114.08 L352.59,115.05 L353.37,116.02 L354.15,117.00 L354.92,117.99 L355.67,118.99 L356.40,120.00 L357.13,121.05 L357.85,122.10 L358.54,123.15 L359.23,124.20 L359.90,125.26 L360.57,126.31 L361.23,127.37 L361.89,128.43 L362.55,129.50 L363.21,130.56 L363.88,131.63 L364.55,132.70 L365.24,133.77 L365.94,134.85 L366.66,135.92 L367.40,137.00 L368.09,137.99 L368.78,138.98 L369.49,139.97 L370.21,140.97 L370.93,141.97 L371.66,142.98 L372.40,143.99 L373.15,144.99 L373.89,146.00 L374.65,147.01 L375.40,148.02 L376.16,149.03 L376.93,150.04 L377.69,151.04 L378.45,152.04 L379.22,153.04 L379.98,154.03 L380.74,155.02 L381.50,156.00 L382.25,156.98 L383.00,157.99 L383.76,159.01 L384.52,160.05 L385.28,161.09 L386.04,162.14 L386.80,163.19 L387.56,164.23 L388.33,165.27 L389.10,166.29 L389.86,167.29 L390.63,168.26 L391.40,169.21 L392.17,170.12 L392.94,170.99 L393.70,171.82 L394.47,172.60 L395.24,173.33 L396.00,174.00 L397.15,174.90 L398.28,175.69 L399.40,176.39 L400.53,177.01 L401.66,177.58 L402.81,178.11 L403.98,178.63 L405.17,179.15 L406.40,179.70 L407.54,180.25 L408.71,180.87 L409.90,181.53 L411.12,182.20 L412.35,182.85 L413.59,183.45 L414.83,183.96 L416.07,184.36 L417.30,184.62 L418.51,184.71 L419.70,184.60 L420.65,184.34 L421.60,183.94 L422.54,183.40 L423.47,182.75 L424.40,182.00 L425.32,181.16 L426.24,180.25 L427.16,179.29 L428.08,178.28 L428.99,177.25 L429.91,176.22 L430.82,175.18 L431.74,174.17 L432.66,173.19 L433.58,172.26 L434.50,171.40" fill="none" stroke="#9a9a9a" stroke-width="0.9" stroke-dasharray="3.4 2.8" stroke-linecap="butt" stroke-linejoin="round"/>
<path d="M320.60,71.20 L321.43,72.12 L322.25,73.04 L323.06,73.96 L323.87,74.89 L324.69,75.81 L325.50,76.74 L326.31,77.66 L327.13,78.58 L327.96,79.50 L328.79,80.41 L329.62,81.32 L330.47,82.22 L331.33,83.12 L332.20,84.00 L333.10,84.89 L334.02,85.78 L334.96,86.66 L335.90,87.53 L336.86,88.41 L337.82,89.27 L338.79,90.13 L339.75,90.99 L340.72,91.84 L341.67,92.68 L342.63,93.52 L343.56,94.35 L344.49,95.18 L345.40,96.00 L346.35,96.85 L347.28,97.67 L348.20,98.46 L349.11,99.23 L350.02,100.00 L350.91,100.77 L351.81,101.55 L352.71,102.36 L353.62,103.20 L354.53,104.08 L355.46,105.01 L356.40,106.00 L357.11,106.78 L357.83,107.60 L358.56,108.46 L359.29,109.34 L360.03,110.25 L360.78,111.19 L361.53,112.14 L362.28,113.11 L363.03,114.10 L363.79,115.10 L364.54,116.11 L365.29,117.12 L366.05,118.14 L366.80,119.16 L367.54,120.17 L368.29,121.18 L369.02,122.17 L369.75,123.16 L370.48,124.12 L371.19,125.07 L371.90,126.00 L372.70,127.03 L373.50,128.05 L374.30,129.07 L375.09,130.07 L375.89,131.07 L376.68,132.06 L377.47,133.05 L378.25,134.03 L379.02,135.02 L379.79,136.00 L380.54,136.99 L381.29,137.98 L382.02,138.97 L382.74,139.96 L383.44,140.97 L384.13,141.98 L384.80,143.00 L385.46,144.04 L386.09,145.09 L386.71,146.14 L387.31,147.19 L387.90,148.25 L388.47,149.32 L389.03,150.38 L389.59,151.45 L390.14,152.52 L390.68,153.59 L391.23,154.66 L391.77,155.73 L392.32,156.80 L392.87,157.87 L393.43,158.94 L394.00,160.00" fill="none" stroke="#9a9a9a" stroke-width="0.9" stroke-dasharray="3.4 2.8" stroke-linecap="butt" stroke-linejoin="round"/>
<path d="M320.60,85.60 L321.43,86.49 L322.25,87.38 L323.06,88.27 L323.88,89.16 L324.69,90.06 L325.51,90.95 L326.32,91.84 L327.14,92.73 L327.96,93.62 L328.79,94.51 L329.63,95.39 L330.48,96.26 L331.33,97.14 L332.20,98.00 L333.11,98.88 L334.03,99.75 L334.97,100.61 L335.93,101.46 L336.89,102.32 L337.85,103.16 L338.82,104.01 L339.79,104.85 L340.76,105.70 L341.72,106.55 L342.66,107.40 L343.59,108.26 L344.51,109.13 L345.40,110.00 L346.30,110.89 L347.17,111.77 L348.03,112.64 L348.87,113.51 L349.70,114.37 L350.53,115.25 L351.35,116.13 L352.17,117.04 L353.00,117.96 L353.83,118.91 L354.67,119.90 L355.53,120.93 L356.40,122.00 L357.07,122.85 L357.76,123.73 L358.45,124.64 L359.15,125.57 L359.85,126.53 L360.56,127.51 L361.27,128.50 L361.99,129.52 L362.71,130.55 L363.43,131.58 L364.15,132.63 L364.88,133.68 L365.60,134.74 L366.32,135.80 L367.03,136.85 L367.75,137.91 L368.46,138.95 L369.16,139.99 L369.86,141.02 L370.55,142.03 L371.23,143.02 L371.90,144.00 L372.61,145.03 L373.33,146.07 L374.04,147.10 L374.75,148.13 L375.45,149.16 L376.15,150.19 L376.85,151.21 L377.55,152.23 L378.24,153.25 L378.92,154.26 L379.60,155.26 L380.27,156.26 L380.94,157.25 L381.60,158.23 L382.26,159.21 L382.91,160.17 L383.55,161.12 L384.18,162.07 L384.80,163.00 L385.56,164.14 L386.31,165.27 L387.04,166.37 L387.75,167.46 L388.46,168.53 L389.16,169.60 L389.85,170.66 L390.54,171.71 L391.22,172.76 L391.91,173.81 L392.60,174.87 L393.30,175.93 L394.00,177.00" fill="none" stroke="#9a9a9a" stroke-width="0.9" stroke-dasharray="3.4 2.8" stroke-linecap="butt" stroke-linejoin="round"/>
<path d="M322.30,103.20 L323.33,103.82 L324.36,104.44 L325.39,105.06 L326.43,105.67 L327.46,106.29 L328.49,106.91 L329.52,107.53 L330.55,108.15 L331.58,108.77 L332.61,109.39 L333.64,110.01 L334.68,110.62 L335.71,111.24 L336.74,111.86 L337.77,112.48 L338.80,113.10 L339.83,113.72 L340.87,114.35 L341.90,114.97 L342.94,115.60 L343.98,116.23 L345.02,116.86 L346.06,117.49 L347.09,118.12 L348.13,118.75 L349.16,119.37 L350.20,119.99 L351.22,120.60 L352.25,121.21 L353.27,121.82 L354.29,122.41 L355.30,123.00 L356.38,123.62 L357.47,124.22 L358.55,124.81 L359.62,125.38 L360.70,125.95 L361.77,126.52 L362.83,127.08 L363.90,127.65 L364.96,128.22 L366.01,128.81 L367.07,129.40 L368.11,130.02 L369.16,130.65 L370.20,131.30 L371.20,131.94 L372.20,132.58 L373.21,133.22 L374.21,133.86 L375.22,134.51 L376.22,135.17 L377.21,135.85 L378.20,136.53 L379.18,137.24 L380.15,137.97 L381.11,138.72 L382.06,139.49 L382.99,140.30 L383.90,141.13 L384.80,142.00 L385.61,142.85 L386.41,143.75 L387.20,144.70 L387.97,145.68 L388.74,146.70 L389.49,147.74 L390.23,148.80 L390.96,149.88 L391.69,150.96 L392.41,152.05 L393.12,153.13 L393.83,154.20 L394.53,155.24 L395.23,156.27 L395.92,157.26 L396.62,158.22 L397.31,159.14 L398.00,160.00 L398.88,161.04 L399.75,162.04 L400.60,162.99 L401.45,163.90 L402.29,164.79 L403.12,165.66 L403.96,166.51 L404.79,167.37 L405.62,168.23 L406.46,169.10 L407.30,170.00" fill="none" stroke="#9a9a9a" stroke-width="0.9" stroke-dasharray="3.4 2.8" stroke-linecap="butt" stroke-linejoin="round"/>
<path d="M322.30,121.40 L323.40,121.95 L324.50,122.50 L325.61,123.04 L326.71,123.58 L327.81,124.12 L328.92,124.65 L330.02,125.19 L331.12,125.73 L332.22,126.28 L333.32,126.83 L334.42,127.39 L335.52,127.95 L336.62,128.52 L337.71,129.11 L338.80,129.70 L339.84,130.28 L340.88,130.88 L341.93,131.48 L342.97,132.10 L344.01,132.72 L345.04,133.36 L346.08,133.99 L347.11,134.63 L348.15,135.27 L349.18,135.91 L350.21,136.54 L351.23,137.17 L352.25,137.79 L353.27,138.41 L354.29,139.01 L355.30,139.60 L356.39,140.20 L357.49,140.76 L358.58,141.29 L359.68,141.80 L360.78,142.29 L361.88,142.79 L362.97,143.29 L364.04,143.81 L365.11,144.36 L366.17,144.95 L367.21,145.58 L368.23,146.28 L369.22,147.05 L370.20,147.90 L370.95,148.64 L371.69,149.44 L372.41,150.28 L373.12,151.18 L373.81,152.12 L374.49,153.10 L375.16,154.11 L375.82,155.16 L376.47,156.22 L377.12,157.30 L377.75,158.40 L378.39,159.51 L379.02,160.62 L379.65,161.73 L380.28,162.83 L380.91,163.93 L381.55,165.01 L382.18,166.06 L382.83,167.10 L383.48,168.10 L384.13,169.07 L384.80,170.00 L385.57,171.03 L386.35,172.06 L387.14,173.08 L387.93,174.08 L388.72,175.07 L389.52,176.06 L390.31,177.03 L391.11,177.99 L391.90,178.93 L392.69,179.87 L393.47,180.79 L394.25,181.69 L395.02,182.59 L395.78,183.46 L396.53,184.32 L397.27,185.17 L398.00,186.00 L398.89,187.01 L399.77,187.98 L400.63,188.92 L401.47,189.83 L402.31,190.73 L403.14,191.61 L403.97,192.48 L404.80,193.34 L405.63,194.22 L406.46,195.10 L407.30,196.00" fill="none" stroke="#9a9a9a" stroke-width="0.9" stroke-dasharray="3.4 2.8" stroke-linecap="butt" stroke-linejoin="round"/>
<path d="M320.60,50.60 L321.13,51.67 L321.65,52.72 L322.17,53.77 L322.69,54.81 L323.21,55.85 L323.72,56.89 L324.25,57.95 L324.78,59.02 L325.31,60.10 L325.86,61.21 L326.42,62.34 L327.00,63.50 L327.51,64.53 L328.03,65.59 L328.57,66.69 L329.12,67.81 L329.67,68.96 L330.24,70.12 L330.81,71.29 L331.38,72.46 L331.96,73.64 L332.53,74.81 L333.11,75.98 L333.68,77.13 L334.24,78.26 L334.80,79.37 L335.34,80.45 L335.88,81.49 L336.40,82.50 L337.02,83.69 L337.60,84.84 L338.17,85.94 L338.72,87.01 L339.26,88.06 L339.81,89.10 L340.38,90.14 L340.97,91.19 L341.60,92.26 L342.27,93.36 L343.00,94.50 L343.61,95.41 L344.25,96.33 L344.92,97.27 L345.62,98.22 L346.35,99.18 L347.09,100.14 L347.86,101.12 L348.63,102.10 L349.42,103.09 L350.22,104.08 L351.01,105.08 L351.81,106.07 L352.60,107.07 L353.39,108.06 L354.17,109.05 L354.93,110.04 L355.68,111.02 L356.40,112.00 L357.13,113.00 L357.84,114.00 L358.55,115.00 L359.25,116.00 L359.95,117.00 L360.64,118.00 L361.33,119.00 L362.02,120.00 L362.70,121.00 L363.39,122.00 L364.08,123.00 L364.76,124.00 L365.46,125.00 L366.16,126.00 L366.86,127.00 L367.58,128.00 L368.30,129.00 L369.01,129.97 L369.72,130.94 L370.43,131.90 L371.15,132.86 L371.87,133.83 L372.60,134.79 L373.33,135.75 L374.06,136.71 L374.79,137.68 L375.53,138.64 L376.27,139.61 L377.01,140.58 L377.75,141.55 L378.50,142.53 L379.24,143.52 L379.99,144.50 L380.75,145.50 L381.50,146.50 L382.22,147.48 L382.95,148.49 L383.67,149.52 L384.39,150.57 L385.12,151.64 L385.84,152.71 L386.57,153.80 L387.30,154.88 L388.03,155.97 L388.77,157.04 L389.51,158.11 L390.25,159.15 L391.00,160.18 L391.75,161.18 L392.51,162.15 L393.28,163.09 L394.05,163.99 L394.82,164.84 L395.61,165.65 L396.40,166.40 L397.46,167.34 L398.55,168.26 L399.65,169.15 L400.77,169.99 L401.90,170.79 L403.03,171.54 L404.16,172.22 L405.28,172.84 L406.39,173.38 L407.48,173.85 L408.56,174.22 L409.60,174.50 L410.94,174.73 L412.26,174.82 L413.57,174.78 L414.85,174.63 L416.11,174.35 L417.32,173.98 L418.50,173.50 L419.57,172.92 L420.60,172.20 L421.60,171.36 L422.57,170.43 L423.51,169.44 L424.45,168.42 L425.37,167.40 L426.30,166.40 L427.16,165.47 L428.00,164.51 L428.83,163.52 L429.64,162.51 L430.46,161.49 L431.26,160.46 L432.07,159.43 L432.88,158.41 L433.70,157.40" fill="none" stroke="#55752f" stroke-width="1.3" stroke-dasharray="10 3.5" stroke-linecap="butt" stroke-linejoin="round"/>
<path d="M322.30,112.30 L323.32,113.00 L324.34,113.71 L325.36,114.42 L326.39,115.14 L327.41,115.85 L328.44,116.56 L329.46,117.28 L330.48,117.98 L331.50,118.68 L332.51,119.38 L333.51,120.06 L334.51,120.74 L335.50,121.40 L336.57,122.11 L337.63,122.81 L338.68,123.50 L339.72,124.19 L340.76,124.86 L341.80,125.53 L342.83,126.20 L343.87,126.85 L344.90,127.51 L345.95,128.15 L347.00,128.80 L348.05,129.43 L349.11,130.05 L350.18,130.65 L351.26,131.26 L352.33,131.85 L353.41,132.45 L354.47,133.04 L355.53,133.64 L356.57,134.25 L357.60,134.87 L358.60,135.50 L359.73,136.25 L360.85,137.01 L361.95,137.78 L363.04,138.56 L364.11,139.34 L365.17,140.12 L366.22,140.90 L367.26,141.66 L368.30,142.40 L369.36,143.13 L370.42,143.82 L371.46,144.49 L372.49,145.16 L373.52,145.85 L374.52,146.57 L375.52,147.35 L376.50,148.20 L377.36,149.04 L378.20,149.92 L379.01,150.84 L379.80,151.80 L380.60,152.79 L381.39,153.81 L382.20,154.85 L383.03,155.92 L383.90,157.00 L384.80,158.10 L385.50,158.94 L386.23,159.81 L386.98,160.71 L387.75,161.64 L388.54,162.59 L389.35,163.56 L390.16,164.53 L390.97,165.51 L391.79,166.49 L392.61,167.47 L393.43,168.44 L394.23,169.40 L395.02,170.34 L395.80,171.25 L396.56,172.14 L397.29,172.99 L398.00,173.80 L398.90,174.82 L399.77,175.79 L400.61,176.73 L401.44,177.63 L402.26,178.52 L403.06,179.39 L403.86,180.25 L404.67,181.12 L405.48,182.00 L406.30,182.90" fill="none" stroke="#90353b" stroke-width="1.3" stroke-dasharray="6 4" stroke-linecap="butt" stroke-linejoin="round"/>
<path d="M320.60,78.00 L321.43,78.93 L322.24,79.87 L323.06,80.80 L323.87,81.75 L324.69,82.69 L325.50,83.63 L326.31,84.57 L327.13,85.50 L327.95,86.44 L328.78,87.36 L329.62,88.28 L330.47,89.20 L331.33,90.10 L332.20,91.00 L333.10,91.90 L334.02,92.79 L334.96,93.67 L335.91,94.55 L336.87,95.41 L337.83,96.28 L338.80,97.14 L339.77,97.99 L340.73,98.85 L341.69,99.70 L342.64,100.55 L343.58,101.40 L344.50,102.25 L345.40,103.10 L346.36,104.01 L347.29,104.89 L348.21,105.75 L349.11,106.60 L350.01,107.45 L350.90,108.31 L351.79,109.18 L352.68,110.08 L353.59,111.01 L354.51,111.99 L355.44,113.01 L356.40,114.10 L357.09,114.91 L357.80,115.77 L358.54,116.66 L359.29,117.60 L360.05,118.57 L360.82,119.56 L361.60,120.58 L362.39,121.62 L363.18,122.67 L363.97,123.74 L364.77,124.81 L365.55,125.89 L366.33,126.96 L367.10,128.02 L367.86,129.08 L368.61,130.12 L369.33,131.14 L370.04,132.13 L370.73,133.10 L371.39,134.04 L372.02,134.93 L372.63,135.79 L373.20,136.60 L374.09,137.88 L374.91,139.09 L375.68,140.26 L376.40,141.38 L377.10,142.45 L377.78,143.50 L378.44,144.52 L379.11,145.52 L379.80,146.50 L380.66,147.67 L381.50,148.75 L382.33,149.79 L383.16,150.83 L383.98,151.92 L384.80,153.10 L385.46,154.11 L386.13,155.20 L386.80,156.33 L387.48,157.48 L388.14,158.65 L388.79,159.81 L389.43,160.93 L390.03,162.00 L390.60,163.00 L391.32,164.26 L391.99,165.43 L392.63,166.55 L393.26,167.66 L393.90,168.80" fill="none" stroke="#e37e00" stroke-width="1.3" stroke-dasharray="6 3 1.5 3" stroke-linecap="butt" stroke-linejoin="round"/>
<path d="M321.30,34.00 L322.41,34.70 L323.54,35.40 L324.67,36.11 L325.82,36.83 L326.96,37.54 L328.10,38.25 L329.22,38.95 L330.33,39.65 L331.42,40.34 L332.48,41.01 L333.51,41.66 L334.50,42.30 L335.64,43.02 L336.73,43.71 L337.78,44.36 L338.81,45.01 L339.82,45.66 L340.81,46.33 L341.80,47.04 L342.80,47.80 L343.75,48.57 L344.69,49.37 L345.63,50.19 L346.56,51.05 L347.48,51.92 L348.39,52.80 L349.28,53.70 L350.15,54.60 L351.00,55.50 L351.90,56.50 L352.77,57.51 L353.62,58.53 L354.45,59.57 L355.26,60.61 L356.07,61.67 L356.88,62.73 L357.70,63.80 L358.46,64.79 L359.22,65.81 L359.99,66.84 L360.75,67.87 L361.51,68.91 L362.25,69.94 L362.96,70.95 L363.65,71.94 L364.30,72.90 L365.04,74.00 L365.70,75.00 L366.33,75.97 L366.96,76.99 L367.64,78.15 L368.40,79.50 L368.82,80.26 L369.26,81.08 L369.73,81.94 L370.21,82.86 L370.72,83.82 L371.24,84.82 L371.77,85.86 L372.32,86.94 L372.88,88.04 L373.45,89.17 L374.02,90.32 L374.60,91.49 L375.18,92.67 L375.76,93.87 L376.34,95.07 L376.92,96.27 L377.49,97.48 L378.06,98.68 L378.61,99.87 L379.15,101.06 L379.69,102.23 L380.20,103.37 L380.70,104.50 L381.19,105.64 L381.68,106.79 L382.17,107.96 L382.65,109.15 L383.12,110.34 L383.60,111.55 L384.07,112.76 L384.53,113.98 L384.99,115.20 L385.45,116.42 L385.90,117.63 L386.35,118.84 L386.80,120.04 L387.24,121.23 L387.67,122.40 L388.10,123.56 L388.53,124.70 L388.95,125.82 L389.37,126.91 L389.79,127.98 L390.19,129.02 L390.60,130.03 L391.00,131.00 L391.54,132.28 L392.06,133.50 L392.56,134.67 L393.06,135.79 L393.54,136.88 L394.02,137.95 L394.50,139.01 L394.98,140.06 L395.47,141.13 L395.96,142.22 L396.47,143.34 L397.00,144.50 L397.49,145.58 L397.98,146.67 L398.49,147.77 L399.00,148.88 L399.51,150.00 L400.03,151.13 L400.56,152.27 L401.09,153.42 L401.62,154.56 L402.15,155.72 L402.68,156.87 L403.21,158.03 L403.74,159.19 L404.27,160.35 L404.80,161.50 L405.31,162.62 L405.81,163.74 L406.30,164.87 L406.80,166.01 L407.29,167.14 L407.78,168.28 L408.28,169.42 L408.77,170.57 L409.28,171.71 L409.78,172.85 L410.29,174.00 L410.81,175.14 L411.34,176.28 L411.88,177.43 L412.44,178.56 L413.00,179.70 L413.56,180.81 L414.14,181.94 L414.72,183.06 L415.31,184.20 L415.90,185.33 L416.51,186.47 L417.12,187.60 L417.73,188.73 L418.36,189.86 L418.99,190.98 L419.62,192.10 L420.26,193.20 L420.90,194.29 L421.55,195.37 L422.20,196.43 L422.85,197.47 L423.50,198.50 L424.18,199.55 L424.86,200.61 L425.54,201.66 L426.22,202.71 L426.91,203.75 L427.60,204.77 L428.30,205.79 L429.00,206.78 L429.71,207.75 L430.43,208.71 L431.16,209.63 L431.90,210.52 L432.66,211.39 L433.42,212.21 L434.20,213.00 L435.13,213.88 L436.08,214.70 L437.03,215.48 L438.00,216.22 L438.99,216.93 L439.99,217.60 L441.00,218.25 L442.03,218.88 L443.07,219.50 L444.13,220.10 L445.20,220.70 L446.26,221.26 L447.36,221.79 L448.50,222.30 L449.67,222.79 L450.85,223.26 L452.03,223.72 L453.20,224.17 L454.35,224.61 L455.47,225.04 L456.54,225.46 L457.56,225.88 L458.50,226.30 L459.71,226.86 L460.79,227.38 L461.81,227.88 L462.82,228.39 L463.86,228.95 L465.00,229.60 L465.99,230.19 L467.03,230.84 L468.11,231.53 L469.21,232.25 L470.34,233.00 L471.48,233.77 L472.62,234.54 L473.76,235.31 L474.89,236.07 L476.00,236.80" fill="none" stroke="#1a476f" stroke-width="1.3" stroke-linecap="butt" stroke-linejoin="round"/>
<rect x="317.2" y="311" width="190.6" height="50.7" fill="none" stroke="#333" stroke-width="1"/>
<line x1="322" y1="320.7" x2="361.9" y2="320.7" stroke="#4a6d90" stroke-width="1.6"/>
<path d="M322.00,337.00 L361.90,337.00" fill="none" stroke="#73905a" stroke-width="1.6" stroke-dasharray="16 4" stroke-linecap="butt" stroke-linejoin="round"/>
<path d="M322.00,352.90 L361.90,352.90" fill="none" stroke="#9a9a9a" stroke-width="0.9" stroke-dasharray="3.6 3.2" stroke-linecap="butt" stroke-linejoin="round"/>
<path d="M422.80,320.70 L461.90,320.70" fill="none" stroke="#a55a60" stroke-width="1.6" stroke-dasharray="8 4" stroke-linecap="butt" stroke-linejoin="round"/>
<path d="M422.80,337.00 L461.90,337.00" fill="none" stroke="#eb9a40" stroke-width="1.6" stroke-dasharray="8 3 1.5 3" stroke-linecap="butt" stroke-linejoin="round"/>
<text x="369.9" y="323.9" font-size="8.1" text-anchor="start" font-weight="normal" fill="#000" stroke="#000" stroke-width="0.16" transform="translate(369.9 323.9) scale(1 1.12) translate(-369.9 -323.9)">Nov-Jan</text>
<text x="369.9" y="339.9" font-size="8.1" text-anchor="start" font-weight="normal" fill="#000" stroke="#000" stroke-width="0.16" transform="translate(369.9 339.9) scale(1 1.12) translate(-369.9 -339.9)">May-Jul</text>
<text x="369.9" y="356.4" font-size="8.1" text-anchor="start" font-weight="normal" fill="#000" stroke="#000" stroke-width="0.16" transform="translate(369.9 356.4) scale(1 1.12) translate(-369.9 -356.4)">95% CIs</text>
<text x="470.7" y="323.9" font-size="8.1" text-anchor="start" font-weight="normal" fill="#000" stroke="#000" stroke-width="0.16" transform="translate(470.7 323.9) scale(1 1.12) translate(-470.7 -323.9)">Feb-Apr</text>
<text x="470.7" y="339.9" font-size="8.1" text-anchor="start" font-weight="normal" fill="#000" stroke="#000" stroke-width="0.16" transform="translate(470.7 339.9) scale(1 1.12) translate(-470.7 -339.9)">Aug-Oct</text>
<text x="528.5" y="16" font-size="20" text-anchor="start" font-weight="bold" fill="#000" stroke="#000" stroke-width="0">C</text>
<text x="686.2" y="12.8" font-size="11.35" text-anchor="middle" font-weight="normal" fill="#000" stroke="#000" stroke-width="0.3">Stratifying by mother's height</text>
<line x1="573" y1="40.3" x2="775.9" y2="40.3" stroke="#ebf0f0" stroke-width="1"/>
<line x1="573" y1="117.0" x2="775.9" y2="117.0" stroke="#ebf0f0" stroke-width="1"/>
<line x1="573" y1="193.7" x2="775.9" y2="193.7" stroke="#ebf0f0" stroke-width="1"/>
<line x1="573" y1="270.4" x2="775.9" y2="270.4" stroke="#ebf0f0" stroke-width="1"/>
<line x1="572" y1="17.2" x2="572" y2="278.15" stroke="#7a7a7a" stroke-width="1.9"/>
<line x1="571.05" y1="277.2" x2="775.9" y2="277.2" stroke="#7a7a7a" stroke-width="1.9"/>
<line x1="568" y1="40.3" x2="572" y2="40.3" stroke="#7a7a7a" stroke-width="1.2"/>
<text x="563.3" y="40.3" font-size="10" text-anchor="middle" font-weight="normal" fill="#000" stroke="#000" stroke-width="0.16" transform="rotate(-90 563.3 40.3)">.5</text>
<line x1="568" y1="117.0" x2="572" y2="117.0" stroke="#7a7a7a" stroke-width="1.2"/>
<text x="563.3" y="117.0" font-size="10" text-anchor="middle" font-weight="normal" fill="#000" stroke="#000" stroke-width="0.16" transform="rotate(-90 563.3 117.0)">0</text>
<line x1="568" y1="193.7" x2="572" y2="193.7" stroke="#7a7a7a" stroke-width="1.2"/>
<text x="563.3" y="193.7" font-size="10" text-anchor="middle" font-weight="normal" fill="#000" stroke="#000" stroke-width="0.16" transform="rotate(-90 563.3 193.7)">-.5</text>
<line x1="568" y1="270.4" x2="572" y2="270.4" stroke="#7a7a7a" stroke-width="1.2"/>
<text x="563.3" y="270.4" font-size="10" text-anchor="middle" font-weight="normal" fill="#000" stroke="#000" stroke-width="0.16" transform="rotate(-90 563.3 270.4)">-1</text>
<line x1="578.5" y1="277.2" x2="578.5" y2="281.0" stroke="#7a7a7a" stroke-width="1.2"/>
<text x="578.5" y="291.2" font-size="10" text-anchor="middle" font-weight="normal" fill="#000" stroke="#000" stroke-width="0.16">0</text>
<line x1="616.65" y1="277.2" x2="616.65" y2="281.0" stroke="#7a7a7a" stroke-width="1.2"/>
<text x="616.65" y="291.2" font-size="10" text-anchor="middle" font-weight="normal" fill="#000" stroke="#000" stroke-width="0.16">50</text>
<line x1="654.8" y1="277.2" x2="654.8" y2="281.0" stroke="#7a7a7a" stroke-width="1.2"/>
<text x="654.8" y="291.2" font-size="10" text-anchor="middle" font-weight="normal" fill="#000" stroke="#000" stroke-width="0.16">100</text>
<line x1="692.95" y1="277.2" x2="692.95" y2="281.0" stroke="#7a7a7a" stroke-width="1.2"/>
<text x="692.95" y="291.2" font-size="10" text-anchor="middle" font-weight="normal" fill="#000" stroke="#000" stroke-width="0.16">150</text>
<line x1="731.1" y1="277.2" x2="731.1" y2="281.0" stroke="#7a7a7a" stroke-width="1.2"/>
<text x="731.1" y="291.2" font-size="10" text-anchor="middle" font-weight="normal" fill="#000" stroke="#000" stroke-width="0.16">200</text>
<line x1="769.25" y1="277.2" x2="769.25" y2="281.0" stroke="#7a7a7a" stroke-width="1.2"/>
<text x="769.25" y="291.2" font-size="10" text-anchor="middle" font-weight="normal" fill="#000" stroke="#000" stroke-width="0.16">250</text>
<text x="674" y="302.8" font-size="10.45" text-anchor="middle" font-weight="normal" fill="#000" stroke="#000" stroke-width="0.16">PM 2.5 in month of birth</text>
<text x="540.3" y="147" font-size="10.5" text-anchor="middle" font-weight="normal" fill="#000" stroke="#000" stroke-width="0.16" transform="rotate(-90 540.3 147)">height-for-age z-score</text>
<text x="550.6" y="147" font-size="10.45" text-anchor="middle" font-weight="normal" fill="#000" stroke="#000" stroke-width="0.16" transform="rotate(-90 550.6 147)">(after controlling for age-by-sex)</text>
<path d="M580.30,24.60 L581.48,24.88 L582.66,25.16 L583.84,25.44 L585.03,25.72 L586.21,26.00 L587.40,26.28 L588.59,26.55 L589.77,26.83 L590.96,27.11 L592.15,27.38 L593.34,27.66 L594.53,27.94 L595.71,28.21 L596.90,28.49 L598.08,28.77 L599.27,29.05 L600.45,29.33 L601.63,29.61 L602.81,29.89 L603.99,30.17 L605.16,30.46 L606.33,30.74 L607.50,31.03 L608.67,31.32 L609.83,31.61 L610.99,31.91 L612.15,32.20 L613.30,32.50 L614.50,32.81 L615.70,33.14 L616.92,33.46 L618.13,33.80 L619.35,34.14 L620.58,34.48 L621.80,34.83 L623.03,35.18 L624.25,35.53 L625.47,35.88 L626.69,36.23 L627.90,36.58 L629.11,36.93 L630.31,37.28 L631.50,37.63 L632.67,37.97 L633.84,38.31 L635.00,38.64 L636.13,38.96 L637.26,39.28 L638.37,39.59 L639.45,39.89 L640.52,40.19 L641.57,40.47 L642.60,40.74 L643.60,41.00 L644.91,41.34 L646.16,41.66 L647.36,41.98 L648.51,42.28 L649.63,42.57 L650.73,42.85 L651.82,43.12 L652.91,43.38 L654.01,43.64 L655.13,43.88 L656.28,44.12 L657.47,44.35 L658.70,44.58 L660.00,44.80 L661.05,44.96 L662.13,45.11 L663.24,45.24 L664.37,45.36 L665.52,45.47 L666.69,45.57 L667.87,45.67 L669.07,45.75 L670.29,45.84 L671.51,45.92 L672.75,46.00 L673.99,46.08 L675.24,46.17 L676.49,46.25 L677.74,46.35 L678.99,46.45 L680.24,46.56 L681.49,46.68 L682.73,46.81 L683.97,46.96 L685.19,47.12 L686.40,47.30 L687.60,47.50 L688.81,47.73 L690.04,47.98 L691.27,48.26 L692.51,48.56 L693.76,48.87 L695.02,49.21 L696.27,49.56 L697.53,49.91 L698.78,50.28 L700.04,50.65 L701.28,51.02 L702.52,51.38 L703.75,51.75 L704.97,52.11 L706.17,52.45 L707.36,52.78 L708.54,53.10 L709.69,53.40 L710.82,53.67 L711.93,53.93 L713.02,54.15 L714.07,54.34 L715.10,54.50 L716.47,54.68 L717.79,54.85 L719.07,54.98 L720.33,55.10 L721.55,55.19 L722.75,55.24 L723.92,55.27 L725.08,55.27 L726.22,55.23 L727.35,55.16 L728.48,55.05 L729.60,54.90 L730.82,54.69 L732.02,54.43 L733.19,54.13 L734.35,53.79 L735.50,53.40 L736.63,52.98 L737.75,52.53 L738.87,52.05 L739.98,51.54 L741.10,51.00 L742.20,50.45 L743.33,49.86 L744.46,49.25 L745.60,48.60 L746.73,47.92 L747.84,47.22 L748.91,46.49 L749.95,45.73 L750.93,44.94 L751.85,44.13 L752.70,43.30 L753.54,42.34 L754.28,41.34 L754.96,40.29 L755.58,39.21 L756.16,38.11 L756.73,36.99 L757.29,35.88 L757.88,34.78 L758.50,33.70" fill="none" stroke="#9a9a9a" stroke-width="0.9" stroke-dasharray="3.4 2.8" stroke-linecap="butt" stroke-linejoin="round"/>
<path d="M580.30,30.20 L581.48,30.51 L582.66,30.82 L583.85,31.13 L585.03,31.43 L586.22,31.73 L587.41,32.03 L588.60,32.33 L589.78,32.63 L590.97,32.92 L592.16,33.22 L593.35,33.51 L594.54,33.81 L595.73,34.11 L596.92,34.41 L598.11,34.71 L599.29,35.02 L600.47,35.32 L601.66,35.63 L602.83,35.95 L604.01,36.26 L605.19,36.59 L606.36,36.91 L607.52,37.25 L608.69,37.58 L609.85,37.93 L611.00,38.28 L612.15,38.64 L613.30,39.00 L614.46,39.38 L615.62,39.78 L616.79,40.20 L617.97,40.63 L619.14,41.07 L620.32,41.52 L621.50,41.98 L622.68,42.45 L623.86,42.93 L625.03,43.41 L626.20,43.89 L627.37,44.37 L628.53,44.85 L629.68,45.33 L630.83,45.80 L631.97,46.27 L633.09,46.73 L634.21,47.18 L635.31,47.62 L636.41,48.04 L637.48,48.45 L638.55,48.84 L639.59,49.22 L640.62,49.57 L641.64,49.91 L642.63,50.22 L643.60,50.50 L645.00,50.87 L646.33,51.19 L647.61,51.45 L648.85,51.68 L650.05,51.88 L651.24,52.06 L652.42,52.23 L653.61,52.40 L654.81,52.58 L656.04,52.78 L657.30,53.01 L658.62,53.28 L660.00,53.60 L661.02,53.85 L662.06,54.11 L663.13,54.37 L664.21,54.65 L665.32,54.93 L666.44,55.22 L667.58,55.52 L668.73,55.83 L669.89,56.14 L671.06,56.47 L672.24,56.80 L673.43,57.14 L674.62,57.49 L675.82,57.85 L677.02,58.21 L678.22,58.59 L679.41,58.97 L680.61,59.36 L681.80,59.76 L682.98,60.17 L684.15,60.59 L685.31,61.02 L686.46,61.46 L687.60,61.90 L688.73,62.36 L689.86,62.85 L691.00,63.37 L692.14,63.91 L693.29,64.46 L694.45,65.04 L695.60,65.63 L696.76,66.24 L697.91,66.85 L699.06,67.47 L700.21,68.09 L701.35,68.72 L702.48,69.34 L703.61,69.96 L704.73,70.57 L705.83,71.18 L706.93,71.77 L708.01,72.34 L709.08,72.90 L710.13,73.43 L711.16,73.94 L712.18,74.43 L713.17,74.89 L714.15,75.31 L715.10,75.70 L716.46,76.22 L717.80,76.68 L719.11,77.11 L720.40,77.50 L721.65,77.86 L722.88,78.19 L724.08,78.50 L725.25,78.81 L726.39,79.10 L727.49,79.39 L728.56,79.69 L729.60,80.00 L731.03,80.55 L732.37,81.21 L733.63,81.86 L734.86,82.37 L736.07,82.62 L737.30,82.50 L738.14,82.15 L738.97,81.60 L739.80,80.88 L740.62,80.01 L741.44,79.02 L742.25,77.95 L743.05,76.82 L743.84,75.66 L744.62,74.50 L745.40,73.36 L746.15,72.29 L746.90,71.30 L747.73,70.23 L748.55,69.15 L749.36,68.05 L750.16,66.95 L750.94,65.86 L751.71,64.77 L752.46,63.71 L753.19,62.67 L753.91,61.67 L754.60,60.70 L755.48,59.48 L756.32,58.32 L757.12,57.21 L757.91,56.11 L758.70,55.02 L759.50,53.90" fill="none" stroke="#9a9a9a" stroke-width="0.9" stroke-dasharray="3.4 2.8" stroke-linecap="butt" stroke-linejoin="round"/>
<path d="M580.30,27.40 L581.51,27.65 L582.72,27.91 L583.95,28.16 L585.18,28.40 L586.41,28.65 L587.65,28.90 L588.88,29.15 L590.11,29.40 L591.33,29.65 L592.54,29.90 L593.75,30.16 L594.93,30.41 L596.11,30.68 L597.26,30.95 L598.39,31.22 L599.50,31.50 L600.74,31.82 L601.94,32.15 L603.13,32.48 L604.29,32.81 L605.43,33.14 L606.57,33.48 L607.69,33.83 L608.81,34.19 L609.92,34.55 L611.04,34.92 L612.16,35.31 L613.30,35.70 L614.45,36.12 L615.59,36.56 L616.73,37.01 L617.86,37.48 L618.99,37.96 L620.12,38.44 L621.25,38.92 L622.40,39.40 L623.55,39.87 L624.72,40.33 L625.90,40.78 L627.10,41.20 L628.23,41.58 L629.37,41.95 L630.52,42.31 L631.69,42.67 L632.86,43.01 L634.05,43.36 L635.24,43.70 L636.43,44.03 L637.63,44.35 L638.83,44.67 L640.03,44.99 L641.22,45.30 L642.41,45.60 L643.60,45.90 L644.85,46.21 L646.08,46.51 L647.29,46.79 L648.50,47.07 L649.71,47.33 L650.92,47.60 L652.14,47.86 L653.38,48.12 L654.64,48.38 L655.92,48.65 L657.24,48.93 L658.60,49.21 L660.00,49.50 L661.06,49.72 L662.15,49.93 L663.27,50.13 L664.42,50.34 L665.59,50.54 L666.79,50.74 L668.00,50.94 L669.22,51.14 L670.46,51.35 L671.71,51.55 L672.97,51.77 L674.23,51.98 L675.49,52.20 L676.75,52.43 L678.01,52.67 L679.26,52.92 L680.50,53.18 L681.73,53.45 L682.94,53.73 L684.14,54.02 L685.32,54.33 L686.47,54.66 L687.60,55.00 L688.78,55.39 L689.95,55.81 L691.10,56.27 L692.25,56.75 L693.39,57.25 L694.52,57.78 L695.64,58.31 L696.76,58.85 L697.86,59.40 L698.96,59.95 L700.05,60.50 L701.13,61.04 L702.21,61.57 L703.28,62.08 L704.35,62.58 L705.41,63.05 L706.46,63.49 L707.51,63.90 L708.56,64.27 L709.60,64.60 L710.83,64.96 L712.04,65.30 L713.23,65.61 L714.41,65.90 L715.57,66.16 L716.73,66.40 L717.89,66.62 L719.04,66.81 L720.20,66.97 L721.37,67.11 L722.55,67.22 L723.74,67.31 L724.96,67.37 L726.20,67.40 L727.37,67.40 L728.57,67.39 L729.79,67.34 L731.04,67.28 L732.31,67.19 L733.58,67.08 L734.87,66.95 L736.15,66.80 L737.43,66.63 L738.70,66.43 L739.96,66.21 L741.19,65.98 L742.40,65.72 L743.59,65.45 L744.73,65.15 L745.84,64.83 L746.90,64.50 L748.18,64.03 L749.41,63.51 L750.58,62.93 L751.72,62.32 L752.82,61.68 L753.90,61.02 L754.97,60.34 L756.03,59.66 L757.10,58.99 L758.19,58.33 L759.30,57.70" fill="none" stroke="#6e8e84" stroke-width="1.3" stroke-dasharray="9 4" stroke-linecap="butt" stroke-linejoin="round"/>
<path d="M580.30,71.50 L581.50,71.70 L582.71,71.89 L583.93,72.08 L585.14,72.26 L586.36,72.44 L587.58,72.61 L588.80,72.79 L590.01,72.98 L591.23,73.16 L592.43,73.36 L593.63,73.56 L594.83,73.78 L596.01,74.01 L597.19,74.25 L598.35,74.52 L599.50,74.80 L600.73,75.13 L601.95,75.46 L603.15,75.82 L604.34,76.19 L605.53,76.57 L606.70,76.96 L607.87,77.36 L609.04,77.78 L610.20,78.21 L611.36,78.65 L612.52,79.10 L613.67,79.56 L614.84,80.02 L616.00,80.50 L617.12,80.97 L618.23,81.47 L619.34,81.98 L620.45,82.51 L621.55,83.06 L622.66,83.61 L623.76,84.17 L624.86,84.73 L625.96,85.30 L627.06,85.86 L628.17,86.41 L629.27,86.95 L630.38,87.49 L631.49,88.00 L632.60,88.50 L633.77,89.01 L634.93,89.53 L636.09,90.05 L637.24,90.57 L638.40,91.08 L639.56,91.59 L640.72,92.08 L641.89,92.57 L643.06,93.03 L644.24,93.47 L645.44,93.90 L646.64,94.29 L647.86,94.66 L649.10,95.00 L650.24,95.29 L651.38,95.56 L652.52,95.82 L653.66,96.07 L654.81,96.30 L655.96,96.51 L657.13,96.70 L658.30,96.88 L659.49,97.04 L660.70,97.17 L661.92,97.29 L663.17,97.38 L664.44,97.44 L665.73,97.49 L667.05,97.51 L668.40,97.50 L669.48,97.47 L670.59,97.40 L671.74,97.31 L672.92,97.19 L674.13,97.05 L675.36,96.88 L676.61,96.69 L677.88,96.49 L679.16,96.27 L680.46,96.03 L681.76,95.79 L683.08,95.53 L684.39,95.27 L685.70,95.01 L687.01,94.74 L688.32,94.48 L689.61,94.21 L690.90,93.95 L692.17,93.70 L693.42,93.46 L694.64,93.23 L695.85,93.01 L697.03,92.80 L698.17,92.62 L699.29,92.46 L700.36,92.32 L701.40,92.20 L702.87,92.08 L704.29,92.01 L705.68,91.97 L707.03,91.97 L708.34,91.98 L709.63,92.00 L710.89,92.02 L712.12,92.03 L713.33,92.01 L714.52,91.96 L715.69,91.87 L716.85,91.72 L718.00,91.50 L719.28,91.18 L720.53,90.79 L721.76,90.35 L722.95,89.87 L724.13,89.36 L725.27,88.82 L726.39,88.28 L727.49,87.74 L728.56,87.21 L729.60,86.70 L730.78,86.08 L731.89,85.41 L732.95,84.73 L734.00,84.06 L735.05,83.45 L736.14,82.92 L737.30,82.50 L738.42,82.22 L739.56,82.03 L740.73,81.90 L741.92,81.83 L743.14,81.80 L744.38,81.81 L745.63,81.85 L746.90,81.90 L748.09,81.98 L749.31,82.10 L750.56,82.27 L751.82,82.46 L753.10,82.68 L754.38,82.91 L755.67,83.14 L756.95,83.38 L758.23,83.60 L759.50,83.80" fill="none" stroke="#9a9a9a" stroke-width="0.9" stroke-dasharray="3.4 2.8" stroke-linecap="butt" stroke-linejoin="round"/>
<path d="M580.30,77.80 L581.50,78.03 L582.71,78.24 L583.93,78.46 L585.14,78.66 L586.36,78.87 L587.58,79.07 L588.80,79.27 L590.01,79.48 L591.23,79.69 L592.43,79.91 L593.64,80.14 L594.83,80.38 L596.01,80.64 L597.19,80.91 L598.35,81.19 L599.50,81.50 L600.73,81.85 L601.95,82.21 L603.15,82.59 L604.35,82.97 L605.53,83.37 L606.71,83.79 L607.88,84.21 L609.04,84.65 L610.20,85.09 L611.36,85.55 L612.52,86.02 L613.68,86.51 L614.84,87.00 L616.00,87.50 L617.12,88.00 L618.23,88.53 L619.34,89.07 L620.45,89.63 L621.56,90.21 L622.66,90.80 L623.76,91.39 L624.86,91.99 L625.96,92.59 L627.06,93.18 L628.17,93.77 L629.27,94.35 L630.38,94.92 L631.49,95.47 L632.60,96.00 L633.78,96.56 L634.97,97.12 L636.17,97.70 L637.38,98.28 L638.59,98.85 L639.81,99.42 L641.02,99.97 L642.22,100.51 L643.41,101.02 L644.59,101.50 L645.75,101.94 L646.89,102.34 L648.01,102.70 L649.10,103.00 L650.35,103.28 L651.51,103.48 L652.60,103.61 L653.68,103.69 L654.77,103.74 L655.91,103.79 L657.14,103.85 L658.49,103.95 L660.00,104.10 L660.86,104.20 L661.77,104.30 L662.75,104.41 L663.77,104.52 L664.84,104.63 L665.96,104.75 L667.12,104.87 L668.32,104.99 L669.55,105.12 L670.82,105.25 L672.11,105.38 L673.43,105.52 L674.76,105.66 L676.12,105.81 L677.49,105.96 L678.86,106.12 L680.25,106.28 L681.64,106.44 L683.02,106.61 L684.41,106.78 L685.78,106.96 L687.15,107.14 L688.50,107.32 L689.83,107.52 L691.14,107.71 L692.43,107.91 L693.69,108.12 L694.91,108.33 L696.10,108.54 L697.25,108.76 L698.36,108.99 L699.43,109.22 L700.44,109.46 L701.40,109.70 L702.84,110.11 L704.20,110.56 L705.48,111.05 L706.71,111.56 L707.89,112.09 L709.03,112.62 L710.14,113.16 L711.23,113.69 L712.32,114.21 L713.41,114.70 L714.51,115.17 L715.64,115.59 L716.80,115.97 L718.00,116.30 L719.24,116.58 L720.51,116.83 L721.79,117.05 L723.08,117.24 L724.38,117.40 L725.69,117.54 L727.00,117.66 L728.30,117.76 L729.60,117.83 L730.90,117.89 L732.17,117.94 L733.44,117.97 L734.68,117.99 L735.90,118.00 L737.27,117.96 L738.65,117.85 L740.02,117.68 L741.37,117.48 L742.72,117.26 L744.04,117.05 L745.34,116.87 L746.61,116.73 L747.85,116.66 L749.05,116.68 L750.20,116.80 L751.45,117.08 L752.63,117.46 L753.76,117.94 L754.86,118.47 L755.94,119.04 L757.01,119.62 L758.09,120.18 L759.20,120.70" fill="none" stroke="#9a9a9a" stroke-width="0.9" stroke-dasharray="3.4 2.8" stroke-linecap="butt" stroke-linejoin="round"/>
<path d="M580.30,74.20 L581.50,74.42 L582.71,74.63 L583.93,74.83 L585.14,75.03 L586.36,75.23 L587.58,75.42 L588.80,75.62 L590.02,75.82 L591.23,76.02 L592.44,76.24 L593.64,76.46 L594.83,76.70 L596.02,76.95 L597.19,77.21 L598.35,77.50 L599.50,77.80 L600.73,78.15 L601.95,78.52 L603.15,78.90 L604.35,79.30 L605.53,79.71 L606.71,80.13 L607.87,80.57 L609.04,81.02 L610.20,81.48 L611.36,81.94 L612.52,82.42 L613.67,82.91 L614.84,83.40 L616.00,83.90 L617.12,84.39 L618.23,84.90 L619.34,85.43 L620.45,85.98 L621.55,86.53 L622.65,87.10 L623.76,87.67 L624.86,88.24 L625.96,88.81 L627.06,89.38 L628.17,89.95 L629.27,90.50 L630.38,91.05 L631.49,91.58 L632.60,92.10 L633.77,92.64 L634.93,93.18 L636.09,93.72 L637.25,94.26 L638.40,94.80 L639.56,95.33 L640.72,95.85 L641.89,96.36 L643.06,96.85 L644.24,97.33 L645.44,97.78 L646.64,98.22 L647.86,98.62 L649.10,99.00 L650.25,99.32 L651.41,99.63 L652.59,99.93 L653.78,100.20 L654.97,100.47 L656.18,100.71 L657.40,100.94 L658.61,101.16 L659.84,101.36 L661.07,101.54 L662.29,101.71 L663.52,101.86 L664.75,101.99 L665.97,102.11 L667.19,102.21 L668.40,102.30 L669.60,102.36 L670.80,102.38 L672.01,102.38 L673.22,102.35 L674.43,102.30 L675.64,102.24 L676.85,102.16 L678.05,102.07 L679.26,101.97 L680.47,101.88 L681.67,101.79 L682.86,101.70 L684.06,101.62 L685.24,101.56 L686.43,101.52 L687.60,101.50 L688.87,101.50 L690.13,101.51 L691.39,101.53 L692.65,101.56 L693.90,101.60 L695.14,101.64 L696.38,101.69 L697.62,101.74 L698.85,101.79 L700.09,101.84 L701.32,101.89 L702.55,101.93 L703.77,101.97 L705.00,102.00 L706.28,102.04 L707.56,102.09 L708.83,102.16 L710.09,102.23 L711.35,102.31 L712.62,102.38 L713.88,102.43 L715.14,102.47 L716.40,102.49 L717.67,102.48 L718.94,102.43 L720.22,102.34 L721.50,102.20 L722.70,102.04 L723.90,101.85 L725.10,101.63 L726.31,101.39 L727.53,101.13 L728.74,100.84 L729.96,100.53 L731.18,100.20 L732.40,99.84 L733.62,99.47 L734.84,99.07 L736.05,98.66 L737.27,98.22 L738.49,97.77 L739.70,97.30 L740.80,96.85 L741.90,96.36 L743.00,95.85 L744.10,95.31 L745.21,94.75 L746.31,94.17 L747.41,93.58 L748.50,92.96 L749.60,92.34 L750.70,91.71 L751.80,91.08 L752.90,90.44 L754.00,89.80 L755.10,89.16 L756.20,88.53 L757.30,87.91 L758.40,87.30 L759.50,86.70" fill="none" stroke="#e37e00" stroke-width="1.3" stroke-dasharray="9 4" stroke-linecap="butt" stroke-linejoin="round"/>
<path d="M580.30,98.80 L581.50,99.15 L582.71,99.49 L583.93,99.83 L585.15,100.15 L586.37,100.48 L587.59,100.81 L588.81,101.13 L590.03,101.46 L591.24,101.80 L592.45,102.14 L593.65,102.50 L594.84,102.86 L596.03,103.25 L597.20,103.64 L598.36,104.06 L599.50,104.50 L600.65,104.97 L601.79,105.47 L602.92,105.98 L604.03,106.52 L605.14,107.07 L606.23,107.63 L607.32,108.20 L608.40,108.77 L609.49,109.35 L610.56,109.94 L611.64,110.52 L612.73,111.10 L613.81,111.68 L614.90,112.24 L616.00,112.80 L617.10,113.36 L618.21,113.92 L619.31,114.49 L620.41,115.06 L621.51,115.64 L622.61,116.21 L623.72,116.78 L624.82,117.35 L625.93,117.91 L627.03,118.46 L628.14,119.00 L629.25,119.53 L630.36,120.04 L631.48,120.53 L632.60,121.00 L633.76,121.48 L634.93,121.96 L636.10,122.44 L637.27,122.91 L638.44,123.37 L639.62,123.82 L640.79,124.25 L641.97,124.67 L643.15,125.05 L644.34,125.41 L645.52,125.74 L646.71,126.03 L647.91,126.29 L649.10,126.50 L650.34,126.67 L651.54,126.79 L652.72,126.87 L653.88,126.91 L655.05,126.91 L656.22,126.88 L657.42,126.84 L658.65,126.77 L659.93,126.70 L661.26,126.62 L662.66,126.54 L664.13,126.46 L665.70,126.40 L666.61,126.36 L667.55,126.32 L668.54,126.26 L669.57,126.19 L670.63,126.11 L671.73,126.03 L672.85,125.93 L674.01,125.83 L675.19,125.73 L676.40,125.61 L677.63,125.50 L678.89,125.38 L680.16,125.25 L681.45,125.12 L682.75,124.99 L684.07,124.86 L685.40,124.73 L686.74,124.60 L688.08,124.47 L689.43,124.34 L690.78,124.22 L692.13,124.10 L693.48,123.98 L694.82,123.87 L696.16,123.76 L697.49,123.66 L698.82,123.56 L700.12,123.48 L701.42,123.40 L702.70,123.33 L703.96,123.27 L705.20,123.22 L706.42,123.19 L707.61,123.16 L708.78,123.15 L709.91,123.15 L711.02,123.17 L712.10,123.20 L713.14,123.25 L714.14,123.32 L715.10,123.40 L716.58,123.56 L718.01,123.76 L719.40,124.00 L720.75,124.26 L722.07,124.55 L723.35,124.86 L724.60,125.19 L725.83,125.53 L727.02,125.89 L728.19,126.26 L729.34,126.63 L730.47,127.01 L731.58,127.38 L732.68,127.75 L733.76,128.11 L734.83,128.46 L735.90,128.80 L737.18,129.19 L738.44,129.55 L739.68,129.91 L740.89,130.26 L742.07,130.61 L743.22,130.98 L744.33,131.37 L745.41,131.79 L746.45,132.24 L747.45,132.74 L748.40,133.30 L749.48,134.15 L750.50,135.22 L751.45,136.42 L752.36,137.62 L753.22,138.73 L754.04,139.63 L754.83,140.22 L755.60,140.40 L756.43,140.03 L757.19,139.18 L757.91,138.02 L758.60,136.69 L759.29,135.37 L760.00,134.20" fill="none" stroke="#9a9a9a" stroke-width="0.9" stroke-dasharray="3.4 2.8" stroke-linecap="butt" stroke-linejoin="round"/>
<path d="M580.30,104.30 L581.50,104.71 L582.71,105.12 L583.93,105.52 L585.15,105.92 L586.37,106.32 L587.59,106.71 L588.81,107.11 L590.02,107.51 L591.24,107.91 L592.44,108.32 L593.65,108.74 L594.84,109.17 L596.02,109.60 L597.19,110.05 L598.35,110.52 L599.50,111.00 L600.65,111.51 L601.79,112.03 L602.91,112.57 L604.03,113.12 L605.13,113.68 L606.23,114.25 L607.32,114.83 L608.40,115.42 L609.48,116.00 L610.56,116.59 L611.64,117.18 L612.72,117.77 L613.81,118.35 L614.90,118.93 L616.00,119.50 L617.10,120.07 L618.21,120.64 L619.31,121.22 L620.42,121.80 L621.52,122.39 L622.62,122.97 L623.73,123.55 L624.83,124.13 L625.94,124.70 L627.05,125.27 L628.16,125.83 L629.26,126.39 L630.37,126.94 L631.49,127.47 L632.60,128.00 L633.77,128.56 L634.94,129.13 L636.11,129.71 L637.28,130.29 L638.45,130.87 L639.62,131.44 L640.79,132.00 L641.96,132.53 L643.14,133.04 L644.32,133.52 L645.51,133.96 L646.70,134.36 L647.90,134.71 L649.10,135.00 L650.33,135.23 L651.53,135.39 L652.70,135.48 L653.87,135.51 L655.04,135.51 L656.22,135.48 L657.42,135.43 L658.65,135.38 L659.93,135.34 L661.26,135.32 L662.66,135.33 L664.14,135.39 L665.70,135.50 L666.61,135.58 L667.57,135.67 L668.57,135.77 L669.62,135.87 L670.70,135.98 L671.83,136.10 L672.98,136.22 L674.17,136.35 L675.39,136.48 L676.64,136.62 L677.91,136.77 L679.21,136.92 L680.52,137.07 L681.85,137.23 L683.20,137.40 L684.56,137.57 L685.92,137.74 L687.30,137.92 L688.68,138.10 L690.06,138.29 L691.44,138.48 L692.82,138.68 L694.19,138.88 L695.56,139.08 L696.91,139.29 L698.26,139.50 L699.58,139.72 L700.89,139.93 L702.18,140.16 L703.44,140.38 L704.68,140.61 L705.89,140.84 L707.07,141.07 L708.22,141.30 L709.33,141.54 L710.40,141.78 L711.43,142.02 L712.42,142.26 L713.36,142.51 L714.26,142.75 L715.10,143.00 L716.58,143.46 L717.97,143.93 L719.27,144.39 L720.50,144.86 L721.65,145.34 L722.76,145.84 L723.81,146.36 L724.83,146.90 L725.82,147.47 L726.78,148.08 L727.74,148.72 L728.70,149.40 L729.66,150.15 L730.57,150.95 L731.44,151.78 L732.28,152.66 L733.08,153.56 L733.87,154.48 L734.64,155.42 L735.40,156.37 L736.16,157.32 L736.93,158.26 L737.70,159.20 L738.50,160.14 L739.31,161.07 L740.12,161.99 L740.93,162.93 L741.74,163.87 L742.52,164.82 L743.29,165.80 L744.03,166.80 L744.73,167.83 L745.39,168.89 L746.00,170.00 L746.51,171.06 L746.97,172.17 L747.38,173.32 L747.76,174.50 L748.11,175.70 L748.44,176.93 L748.75,178.16 L749.06,179.40 L749.37,180.63 L749.69,181.86 L750.03,183.06 L750.40,184.25 L750.80,185.40 L751.25,186.57 L751.73,187.75 L752.22,188.92 L752.73,190.09 L753.25,191.25 L753.77,192.40 L754.29,193.53 L754.80,194.65 L755.29,195.75 L755.76,196.82 L756.20,197.88 L756.60,198.90 L757.09,200.23 L757.54,201.51 L757.95,202.75 L758.34,203.96 L758.71,205.16 L759.10,206.37 L759.50,207.60" fill="none" stroke="#9a9a9a" stroke-width="0.9" stroke-dasharray="3.4 2.8" stroke-linecap="butt" stroke-linejoin="round"/>
<path d="M580.30,101.60 L581.50,101.99 L582.71,102.37 L583.93,102.75 L585.15,103.12 L586.37,103.49 L587.59,103.86 L588.81,104.23 L590.02,104.60 L591.24,104.98 L592.45,105.36 L593.65,105.75 L594.84,106.15 L596.02,106.57 L597.19,107.00 L598.35,107.44 L599.50,107.90 L600.65,108.39 L601.79,108.90 L602.91,109.42 L604.03,109.96 L605.13,110.51 L606.23,111.07 L607.32,111.63 L608.40,112.20 L609.48,112.78 L610.56,113.36 L611.64,113.94 L612.72,114.51 L613.81,115.08 L614.90,115.65 L616.00,116.20 L617.10,116.75 L618.21,117.31 L619.31,117.87 L620.41,118.44 L621.52,119.00 L622.62,119.57 L623.73,120.13 L624.83,120.69 L625.94,121.25 L627.04,121.79 L628.15,122.34 L629.26,122.87 L630.37,123.39 L631.49,123.90 L632.60,124.40 L633.77,124.92 L634.94,125.45 L636.11,125.99 L637.28,126.52 L638.45,127.05 L639.62,127.57 L640.79,128.07 L641.97,128.56 L643.15,129.02 L644.33,129.45 L645.52,129.85 L646.71,130.21 L647.90,130.53 L649.10,130.80 L650.35,131.02 L651.60,131.19 L652.84,131.31 L654.09,131.39 L655.34,131.44 L656.59,131.45 L657.85,131.44 L659.12,131.42 L660.40,131.39 L661.70,131.35 L663.01,131.32 L664.35,131.30 L665.70,131.30 L666.85,131.30 L668.01,131.29 L669.20,131.28 L670.41,131.26 L671.63,131.23 L672.87,131.20 L674.11,131.16 L675.36,131.12 L676.62,131.09 L677.87,131.05 L679.13,131.01 L680.37,130.98 L681.61,130.95 L682.84,130.92 L684.06,130.91 L685.26,130.90 L686.44,130.89 L687.60,130.90 L688.91,130.92 L690.21,130.93 L691.51,130.96 L692.79,130.98 L694.07,131.01 L695.33,131.05 L696.59,131.09 L697.83,131.14 L699.06,131.19 L700.28,131.25 L701.48,131.33 L702.67,131.41 L703.84,131.50 L705.00,131.60 L706.39,131.73 L707.75,131.85 L709.10,131.97 L710.43,132.10 L711.73,132.25 L713.02,132.43 L714.29,132.63 L715.55,132.87 L716.78,133.16 L718.00,133.50 L719.26,133.92 L720.49,134.38 L721.70,134.90 L722.89,135.45 L724.06,136.04 L725.22,136.65 L726.38,137.29 L727.54,137.94 L728.70,138.60 L729.81,139.24 L730.92,139.89 L732.04,140.57 L733.16,141.27 L734.27,141.99 L735.37,142.72 L736.44,143.47 L737.50,144.23 L738.52,145.01 L739.50,145.80 L740.50,146.64 L741.48,147.50 L742.43,148.37 L743.37,149.26 L744.27,150.17 L745.14,151.09 L745.97,152.02 L746.76,152.96 L747.50,153.90 L748.27,155.01 L748.95,156.14 L749.57,157.29 L750.15,158.44 L750.73,159.60 L751.34,160.76 L752.00,161.90 L752.64,162.92 L753.30,163.93 L753.97,164.95 L754.65,165.96 L755.34,166.97 L756.03,167.98 L756.72,168.99 L757.40,170.00" fill="none" stroke="#55752f" stroke-width="1.3" stroke-dasharray="9 4" stroke-linecap="butt" stroke-linejoin="round"/>
<path d="M580.30,123.00 L581.43,123.41 L582.57,123.81 L583.71,124.22 L584.86,124.62 L586.00,125.01 L587.15,125.41 L588.30,125.81 L589.44,126.21 L590.59,126.61 L591.72,127.01 L592.86,127.42 L593.99,127.83 L595.11,128.25 L596.22,128.68 L597.32,129.11 L598.42,129.55 L599.50,130.00 L600.65,130.49 L601.78,130.99 L602.91,131.49 L604.02,132.00 L605.13,132.52 L606.23,133.04 L607.32,133.57 L608.41,134.10 L609.50,134.64 L610.58,135.19 L611.66,135.74 L612.74,136.30 L613.82,136.86 L614.91,137.43 L616.00,138.00 L617.11,138.60 L618.22,139.22 L619.33,139.87 L620.43,140.52 L621.53,141.19 L622.63,141.86 L623.73,142.54 L624.83,143.21 L625.93,143.87 L627.03,144.53 L628.13,145.17 L629.24,145.79 L630.36,146.39 L631.48,146.96 L632.60,147.50 L633.76,148.03 L634.92,148.55 L636.09,149.05 L637.26,149.53 L638.43,150.01 L639.61,150.46 L640.78,150.90 L641.96,151.32 L643.15,151.73 L644.33,152.12 L645.52,152.49 L646.71,152.85 L647.91,153.18 L649.10,153.50 L650.26,153.78 L651.39,154.03 L652.51,154.25 L653.63,154.44 L654.74,154.62 L655.85,154.78 L656.98,154.93 L658.12,155.07 L659.29,155.22 L660.49,155.37 L661.72,155.53 L663.00,155.70 L664.32,155.89 L665.70,156.10 L666.69,156.26 L667.72,156.43 L668.78,156.61 L669.89,156.79 L671.02,156.99 L672.19,157.19 L673.38,157.39 L674.60,157.60 L675.84,157.82 L677.10,158.03 L678.37,158.25 L679.65,158.48 L680.94,158.70 L682.24,158.92 L683.54,159.15 L684.85,159.37 L686.15,159.59 L687.44,159.81 L688.72,160.03 L689.99,160.24 L691.25,160.45 L692.49,160.65 L693.71,160.85 L694.90,161.04 L696.07,161.22 L697.21,161.40 L698.31,161.56 L699.38,161.72 L700.41,161.87 L701.40,162.00 L702.88,162.20 L704.29,162.41 L705.64,162.61 L706.94,162.80 L708.21,162.98 L709.44,163.15 L710.65,163.30 L711.86,163.44 L713.05,163.55 L714.26,163.63 L715.48,163.69 L716.72,163.71 L718.00,163.70 L719.19,163.67 L720.40,163.62 L721.63,163.57 L722.88,163.49 L724.14,163.40 L725.40,163.29 L726.65,163.16 L727.90,163.00 L729.13,162.81 L730.34,162.60 L731.53,162.35 L732.68,162.07 L733.80,161.75 L734.88,161.40 L735.90,161.00 L737.04,160.48 L738.13,159.90 L739.18,159.26 L740.19,158.58 L741.16,157.86 L742.11,157.10 L743.03,156.31 L743.94,155.50 L744.83,154.68 L745.71,153.84 L746.60,153.00 L747.51,152.12 L748.41,151.19 L749.31,150.24 L750.19,149.26 L751.06,148.26 L751.90,147.24 L752.71,146.22 L753.49,145.20 L754.24,144.19 L754.94,143.18 L755.60,142.20 L756.29,141.08 L756.90,139.96 L757.46,138.85 L757.98,137.74 L758.48,136.63 L758.97,135.52 L759.47,134.41 L760.00,133.30" fill="none" stroke="#9a9a9a" stroke-width="0.9" stroke-dasharray="3.4 2.8" stroke-linecap="butt" stroke-linejoin="round"/>
<path d="M580.30,130.00 L581.50,130.37 L582.71,130.73 L583.93,131.09 L585.15,131.44 L586.37,131.79 L587.59,132.14 L588.81,132.49 L590.02,132.85 L591.24,133.21 L592.44,133.57 L593.64,133.95 L594.84,134.33 L596.02,134.72 L597.19,135.13 L598.35,135.56 L599.50,136.00 L600.65,136.47 L601.79,136.94 L602.92,137.43 L604.04,137.93 L605.15,138.44 L606.25,138.96 L607.34,139.49 L608.43,140.02 L609.51,140.57 L610.59,141.12 L611.67,141.69 L612.75,142.26 L613.83,142.83 L614.91,143.41 L616.00,144.00 L617.05,144.58 L618.09,145.18 L619.13,145.80 L620.16,146.44 L621.20,147.09 L622.23,147.74 L623.26,148.40 L624.29,149.06 L625.32,149.72 L626.35,150.37 L627.38,151.02 L628.42,151.65 L629.46,152.27 L630.50,152.87 L631.55,153.45 L632.60,154.00 L633.77,154.58 L634.96,155.14 L636.16,155.68 L637.38,156.21 L638.60,156.72 L639.82,157.22 L641.04,157.71 L642.25,158.19 L643.45,158.66 L644.63,159.13 L645.79,159.59 L646.92,160.06 L648.03,160.53 L649.10,161.00 L650.25,161.54 L651.31,162.08 L652.30,162.61 L653.26,163.14 L654.21,163.67 L655.19,164.18 L656.23,164.70 L657.36,165.20 L658.60,165.71 L660.00,166.20 L660.82,166.46 L661.70,166.71 L662.63,166.95 L663.62,167.19 L664.65,167.42 L665.73,167.64 L666.85,167.86 L668.00,168.08 L669.19,168.29 L670.41,168.50 L671.66,168.71 L672.93,168.91 L674.23,169.11 L675.54,169.31 L676.87,169.51 L678.21,169.72 L679.56,169.92 L680.91,170.12 L682.26,170.33 L683.61,170.54 L684.96,170.75 L686.30,170.97 L687.62,171.19 L688.93,171.41 L690.22,171.64 L691.49,171.88 L692.74,172.13 L693.96,172.38 L695.14,172.64 L696.29,172.91 L697.40,173.19 L698.47,173.47 L699.50,173.77 L700.47,174.08 L701.40,174.40 L702.76,174.92 L704.05,175.47 L705.27,176.04 L706.43,176.62 L707.54,177.22 L708.61,177.84 L709.66,178.46 L710.68,179.09 L711.68,179.73 L712.69,180.37 L713.70,181.01 L714.73,181.64 L715.78,182.27 L716.87,182.89 L718.00,183.50 L719.09,184.07 L720.19,184.66 L721.30,185.25 L722.41,185.84 L723.54,186.44 L724.66,187.04 L725.80,187.64 L726.93,188.24 L728.08,188.83 L729.22,189.41 L730.37,189.99 L731.52,190.55 L732.68,191.10 L733.83,191.63 L734.99,192.14 L736.14,192.63 L737.30,193.10 L738.49,193.56 L739.68,193.99 L740.88,194.40 L742.08,194.79 L743.28,195.17 L744.49,195.53 L745.70,195.87 L746.91,196.21 L748.12,196.55 L749.33,196.88 L750.55,197.20 L751.76,197.53 L752.97,197.86 L754.18,198.20 L755.39,198.54 L756.60,198.90" fill="none" stroke="#9a9a9a" stroke-width="0.9" stroke-dasharray="3.4 2.8" stroke-linecap="butt" stroke-linejoin="round"/>
<path d="M580.30,125.80 L581.43,126.20 L582.57,126.60 L583.71,126.99 L584.86,127.38 L586.01,127.77 L587.15,128.16 L588.30,128.55 L589.45,128.94 L590.59,129.33 L591.73,129.73 L592.86,130.13 L593.99,130.53 L595.11,130.95 L596.23,131.37 L597.33,131.80 L598.42,132.25 L599.50,132.70 L600.65,133.20 L601.79,133.71 L602.91,134.23 L604.03,134.76 L605.14,135.30 L606.23,135.84 L607.33,136.40 L608.41,136.95 L609.50,137.52 L610.58,138.09 L611.66,138.66 L612.74,139.24 L613.82,139.82 L614.91,140.41 L616.00,141.00 L617.11,141.61 L618.22,142.24 L619.33,142.89 L620.43,143.54 L621.53,144.21 L622.63,144.88 L623.73,145.55 L624.83,146.22 L625.93,146.88 L627.04,147.54 L628.14,148.19 L629.25,148.82 L630.36,149.44 L631.48,150.03 L632.60,150.60 L633.76,151.17 L634.93,151.73 L636.10,152.27 L637.27,152.80 L638.44,153.32 L639.62,153.83 L640.80,154.33 L641.98,154.81 L643.16,155.29 L644.34,155.75 L645.53,156.20 L646.72,156.65 L647.91,157.08 L649.10,157.50 L650.27,157.90 L651.43,158.29 L652.59,158.66 L653.74,159.03 L654.90,159.38 L656.06,159.72 L657.22,160.05 L658.39,160.37 L659.57,160.69 L660.76,161.00 L661.97,161.30 L663.19,161.60 L664.44,161.90 L665.70,162.20 L666.83,162.45 L667.98,162.70 L669.14,162.93 L670.30,163.14 L671.48,163.36 L672.67,163.56 L673.87,163.76 L675.08,163.96 L676.30,164.16 L677.53,164.36 L678.77,164.56 L680.01,164.77 L681.26,164.98 L682.52,165.20 L683.78,165.43 L685.05,165.67 L686.32,165.93 L687.60,166.20 L688.74,166.45 L689.90,166.72 L691.08,167.00 L692.28,167.29 L693.48,167.59 L694.70,167.90 L695.93,168.22 L697.16,168.54 L698.40,168.87 L699.64,169.20 L700.89,169.53 L702.13,169.86 L703.37,170.19 L704.60,170.52 L705.82,170.85 L707.04,171.17 L708.24,171.49 L709.43,171.80 L710.60,172.10 L711.76,172.39 L712.90,172.67 L714.01,172.94 L715.10,173.20 L716.44,173.51 L717.77,173.83 L719.10,174.14 L720.41,174.45 L721.71,174.76 L723.00,175.06 L724.27,175.35 L725.51,175.63 L726.74,175.89 L727.93,176.13 L729.09,176.36 L730.23,176.56 L731.32,176.73 L732.38,176.88 L733.40,177.00 L734.80,177.14 L736.10,177.24 L737.33,177.30 L738.52,177.32 L739.67,177.28 L740.83,177.18 L742.00,177.00 L743.18,176.74 L744.34,176.39 L745.49,175.98 L746.64,175.51 L747.77,175.02 L748.89,174.51 L750.00,174.00 L751.10,173.48 L752.18,172.93 L753.25,172.36 L754.31,171.77 L755.37,171.17 L756.43,170.58 L757.50,170.00" fill="none" stroke="#90353b" stroke-width="1.3" stroke-dasharray="9 4" stroke-linecap="butt" stroke-linejoin="round"/>
<path d="M580.30,179.10 L581.43,179.60 L582.58,180.10 L583.73,180.61 L584.88,181.12 L586.04,181.63 L587.20,182.15 L588.36,182.66 L589.51,183.17 L590.67,183.68 L591.81,184.19 L592.95,184.69 L594.08,185.18 L595.19,185.66 L596.29,186.14 L597.38,186.60 L598.45,187.06 L599.50,187.50 L600.73,188.00 L601.93,188.47 L603.11,188.92 L604.28,189.36 L605.43,189.78 L606.56,190.20 L607.69,190.63 L608.82,191.06 L609.93,191.51 L611.05,191.97 L612.17,192.47 L613.30,193.00 L614.37,193.54 L615.44,194.11 L616.49,194.70 L617.53,195.31 L618.57,195.93 L619.62,196.57 L620.66,197.21 L621.70,197.85 L622.76,198.50 L623.82,199.14 L624.90,199.77 L625.99,200.40 L627.10,201.00 L628.14,201.56 L629.17,202.13 L630.20,202.70 L631.24,203.28 L632.28,203.86 L633.32,204.43 L634.38,205.00 L635.45,205.56 L636.54,206.11 L637.65,206.64 L638.78,207.16 L639.94,207.66 L641.12,208.13 L642.34,208.58 L643.60,209.00 L644.65,209.31 L645.74,209.61 L646.86,209.88 L648.02,210.14 L649.20,210.38 L650.41,210.60 L651.64,210.81 L652.89,211.01 L654.16,211.20 L655.43,211.38 L656.71,211.55 L657.99,211.71 L659.28,211.87 L660.55,212.02 L661.82,212.18 L663.07,212.33 L664.31,212.48 L665.53,212.64 L666.73,212.80 L667.90,212.96 L669.03,213.13 L670.14,213.31 L671.20,213.50 L672.59,213.77 L673.92,214.04 L675.19,214.31 L676.42,214.59 L677.62,214.86 L678.81,215.14 L679.99,215.41 L681.17,215.68 L682.37,215.94 L683.60,216.19 L684.88,216.44 L686.21,216.68 L687.60,216.90 L688.66,217.06 L689.76,217.21 L690.89,217.35 L692.06,217.49 L693.26,217.63 L694.48,217.76 L695.72,217.88 L696.97,218.01 L698.24,218.13 L699.52,218.24 L700.80,218.36 L702.08,218.47 L703.36,218.58 L704.63,218.68 L705.90,218.79 L707.14,218.89 L708.37,219.00 L709.57,219.10 L710.75,219.20 L711.89,219.30 L713.00,219.40 L714.07,219.50 L715.10,219.60 L716.47,219.74 L717.80,219.89 L719.07,220.04 L720.31,220.19 L721.52,220.33 L722.70,220.47 L723.87,220.61 L725.01,220.73 L726.16,220.84 L727.30,220.94 L728.44,221.03 L729.60,221.10 L730.91,221.19 L732.23,221.30 L733.57,221.43 L734.90,221.55 L736.21,221.65 L737.49,221.70 L738.73,221.69 L739.92,221.60 L741.05,221.41 L742.10,221.10 L743.27,220.58 L744.35,219.92 L745.35,219.15 L746.29,218.28 L747.19,217.34 L748.05,216.34 L748.90,215.30 L749.57,214.41 L750.22,213.44 L750.83,212.42 L751.42,211.35 L752.00,210.25 L752.55,209.13 L753.08,208.00 L753.60,206.87 L754.10,205.77 L754.60,204.70 L755.15,203.48 L755.67,202.26 L756.16,201.05 L756.64,199.84 L757.10,198.63 L757.56,197.42 L758.02,196.21 L758.50,195.00" fill="none" stroke="#9a9a9a" stroke-width="0.9" stroke-dasharray="3.4 2.8" stroke-linecap="butt" stroke-linejoin="round"/>
<path d="M580.30,185.20 L581.43,185.72 L582.58,186.25 L583.73,186.78 L584.88,187.32 L586.04,187.86 L587.20,188.40 L588.35,188.95 L589.51,189.48 L590.66,190.02 L591.81,190.55 L592.94,191.07 L594.07,191.59 L595.19,192.10 L596.29,192.59 L597.38,193.08 L598.45,193.55 L599.50,194.00 L600.73,194.51 L601.93,194.99 L603.11,195.44 L604.28,195.86 L605.43,196.28 L606.57,196.70 L607.70,197.11 L608.82,197.54 L609.94,197.98 L611.06,198.45 L612.18,198.96 L613.30,199.50 L614.38,200.06 L615.44,200.66 L616.50,201.28 L617.54,201.93 L618.58,202.59 L619.62,203.27 L620.66,203.95 L621.71,204.64 L622.76,205.33 L623.82,206.02 L624.90,206.69 L625.99,207.36 L627.10,208.00 L628.15,208.59 L629.21,209.19 L630.28,209.80 L631.35,210.41 L632.44,211.02 L633.54,211.63 L634.64,212.23 L635.75,212.83 L636.87,213.41 L637.99,213.98 L639.11,214.53 L640.23,215.06 L641.35,215.57 L642.48,216.05 L643.60,216.50 L644.75,216.93 L645.89,217.33 L647.03,217.70 L648.17,218.04 L649.31,218.36 L650.46,218.66 L651.61,218.96 L652.77,219.24 L653.94,219.52 L655.12,219.80 L656.31,220.08 L657.52,220.38 L658.75,220.68 L660.00,221.00 L661.14,221.30 L662.30,221.60 L663.48,221.90 L664.67,222.20 L665.87,222.50 L667.09,222.81 L668.31,223.12 L669.55,223.42 L670.79,223.73 L672.04,224.04 L673.29,224.35 L674.54,224.66 L675.79,224.96 L677.04,225.27 L678.29,225.58 L679.54,225.89 L680.77,226.19 L682.00,226.50 L683.23,226.80 L684.47,227.10 L685.71,227.40 L686.96,227.69 L688.21,227.98 L689.47,228.27 L690.72,228.56 L691.97,228.84 L693.22,229.14 L694.47,229.43 L695.71,229.73 L696.94,230.03 L698.16,230.34 L699.38,230.66 L700.58,230.98 L701.77,231.31 L702.94,231.65 L704.10,232.00 L705.35,232.39 L706.59,232.78 L707.82,233.17 L709.04,233.56 L710.25,233.96 L711.45,234.36 L712.63,234.78 L713.81,235.20 L714.98,235.64 L716.14,236.09 L717.29,236.55 L718.43,237.03 L719.56,237.53 L720.68,238.06 L721.80,238.60 L722.89,239.16 L723.98,239.76 L725.05,240.38 L726.12,241.02 L727.18,241.69 L728.24,242.36 L729.28,243.05 L730.31,243.75 L731.33,244.45 L732.35,245.15 L733.34,245.84 L734.33,246.53 L735.30,247.20 L736.26,247.86 L737.20,248.50 L738.27,249.24 L739.31,249.98 L740.33,250.73 L741.32,251.48 L742.30,252.22 L743.27,252.94 L744.23,253.65 L745.20,254.34 L746.18,254.99 L747.18,255.62 L748.20,256.20 L749.39,256.82 L750.60,257.38 L751.82,257.90 L753.05,258.38 L754.28,258.85 L755.51,259.30 L756.74,259.75 L757.97,260.21 L759.20,260.70" fill="none" stroke="#9a9a9a" stroke-width="0.9" stroke-dasharray="3.4 2.8" stroke-linecap="butt" stroke-linejoin="round"/>
<path d="M580.30,182.40 L581.43,182.89 L582.58,183.39 L583.73,183.89 L584.88,184.39 L586.04,184.90 L587.20,185.41 L588.36,185.91 L589.52,186.42 L590.67,186.92 L591.81,187.42 L592.95,187.91 L594.08,188.40 L595.19,188.88 L596.30,189.35 L597.38,189.81 L598.45,190.26 L599.50,190.70 L600.73,191.20 L601.93,191.67 L603.12,192.12 L604.28,192.55 L605.43,192.97 L606.57,193.39 L607.70,193.81 L608.82,194.24 L609.94,194.69 L611.05,195.16 L612.17,195.66 L613.30,196.20 L614.38,196.75 L615.44,197.33 L616.49,197.93 L617.54,198.55 L618.58,199.19 L619.62,199.84 L620.66,200.50 L621.71,201.16 L622.76,201.83 L623.82,202.49 L624.90,203.14 L625.99,203.78 L627.10,204.40 L628.15,204.98 L629.22,205.56 L630.30,206.15 L631.40,206.75 L632.50,207.35 L633.62,207.94 L634.74,208.53 L635.86,209.11 L636.98,209.68 L638.10,210.24 L639.22,210.78 L640.33,211.30 L641.43,211.79 L642.52,212.26 L643.60,212.70 L644.88,213.20 L646.15,213.67 L647.41,214.11 L648.66,214.53 L649.91,214.92 L651.15,215.29 L652.39,215.64 L653.64,215.96 L654.88,216.26 L656.14,216.54 L657.40,216.80 L658.64,217.02 L659.88,217.19 L661.12,217.32 L662.36,217.43 L663.60,217.51 L664.84,217.59 L666.09,217.67 L667.35,217.76 L668.62,217.87 L669.90,218.02 L671.20,218.20 L672.41,218.40 L673.61,218.62 L674.81,218.86 L676.02,219.10 L677.23,219.37 L678.45,219.64 L679.68,219.92 L680.93,220.22 L682.21,220.52 L683.51,220.83 L684.84,221.15 L686.20,221.47 L687.60,221.80 L688.66,222.05 L689.76,222.30 L690.89,222.57 L692.06,222.85 L693.24,223.13 L694.45,223.42 L695.68,223.72 L696.93,224.02 L698.18,224.32 L699.45,224.63 L700.72,224.94 L701.99,225.25 L703.26,225.56 L704.53,225.88 L705.78,226.19 L707.03,226.49 L708.26,226.80 L709.46,227.10 L710.65,227.39 L711.81,227.68 L712.94,227.96 L714.04,228.24 L715.10,228.50 L716.41,228.83 L717.69,229.14 L718.95,229.45 L720.18,229.75 L721.39,230.05 L722.58,230.34 L723.75,230.63 L724.90,230.92 L726.04,231.21 L727.15,231.50 L728.26,231.80 L729.35,232.09 L730.43,232.39 L731.50,232.70 L732.76,233.10 L734.02,233.54 L735.26,234.01 L736.48,234.49 L737.67,234.96 L738.84,235.40 L739.97,235.80 L741.06,236.12 L742.10,236.36 L743.10,236.50 L744.66,236.57 L746.06,236.47 L747.43,236.16 L748.90,235.60 L749.78,235.14 L750.70,234.56 L751.64,233.87 L752.60,233.09 L753.58,232.24 L754.56,231.35 L755.56,230.44 L756.55,229.51 L757.54,228.60 L758.53,227.72 L759.50,226.90" fill="none" stroke="#1a476f" stroke-width="1.3" stroke-linecap="butt" stroke-linejoin="round"/>
<rect x="575.6" y="311" width="197.1" height="50.7" fill="none" stroke="#333" stroke-width="1"/>
<line x1="579.9" y1="320.7" x2="616.4" y2="320.7" stroke="#4a6d90" stroke-width="1.6"/>
<path d="M580.00,337.00 L616.40,337.00" fill="none" stroke="#73905a" stroke-width="1.6" stroke-dasharray="7.6 4.8" stroke-linecap="butt" stroke-linejoin="round"/>
<path d="M580.00,352.90 L616.40,352.90" fill="none" stroke="#8aa59c" stroke-width="1.6" stroke-dasharray="7.6 4.8" stroke-linecap="butt" stroke-linejoin="round"/>
<path d="M683.20,320.70 L716.00,320.70" fill="none" stroke="#a55a60" stroke-width="1.6" stroke-dasharray="7.6 4.8" stroke-linecap="butt" stroke-linejoin="round"/>
<path d="M683.20,337.00 L716.00,337.00" fill="none" stroke="#eb9a40" stroke-width="1.6" stroke-dasharray="7.6 4.8" stroke-linecap="butt" stroke-linejoin="round"/>
<path d="M683.20,352.90 L716.00,352.90" fill="none" stroke="#9a9a9a" stroke-width="0.9" stroke-dasharray="3.6 3.2" stroke-linecap="butt" stroke-linejoin="round"/>
<text x="624.4" y="323.9" font-size="8.1" text-anchor="start" font-weight="normal" fill="#000" stroke="#000" stroke-width="0.16" transform="translate(624.4 323.9) scale(1 1.12) translate(-624.4 -323.9)">1st quintile</text>
<text x="624" y="339.9" font-size="8.1" text-anchor="start" font-weight="normal" fill="#000" stroke="#000" stroke-width="0.16" transform="translate(624 339.9) scale(1 1.12) translate(-624 -339.9)">3rd quintile</text>
<text x="626.8" y="356.4" font-size="8.1" text-anchor="start" font-weight="normal" fill="#000" stroke="#000" stroke-width="0.16" transform="translate(626.8 356.4) scale(1 1.12) translate(-626.8 -356.4)">5th quintile</text>
<text x="726.8" y="323.9" font-size="8.1" text-anchor="start" font-weight="normal" fill="#000" stroke="#000" stroke-width="0.16" transform="translate(726.8 323.9) scale(1 1.12) translate(-726.8 -323.9)">2nd quintile</text>
<text x="726.8" y="339.9" font-size="8.1" text-anchor="start" font-weight="normal" fill="#000" stroke="#000" stroke-width="0.16" transform="translate(726.8 339.9) scale(1 1.12) translate(-726.8 -339.9)">4th quintile</text>
<text x="726.8" y="356.4" font-size="8.1" text-anchor="start" font-weight="normal" fill="#000" stroke="#000" stroke-width="0.16" transform="translate(726.8 356.4) scale(1 1.12) translate(-726.8 -356.4)">95% CIs</text>
</svg></body></html>
